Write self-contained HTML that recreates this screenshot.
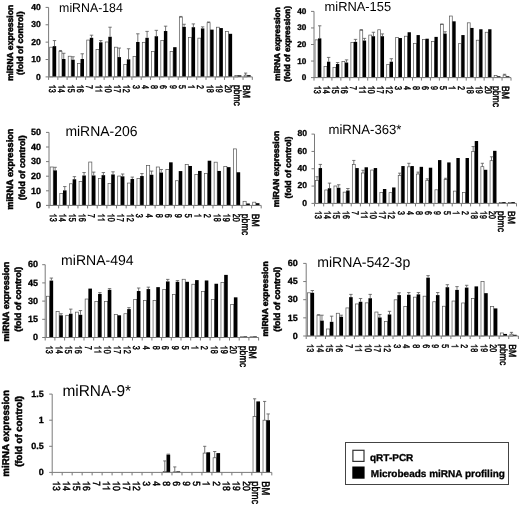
<!DOCTYPE html>
<html><head><meta charset="utf-8"><style>
html,body{margin:0;padding:0;background:#fff;}
svg{display:block;filter:grayscale(1) blur(0.35px);}
text{font-family:"Liberation Sans",sans-serif;fill:#000;text-rendering:geometricPrecision;}
.b{font-weight:bold;stroke:#000;stroke-width:0.3px;}
.yt{font-weight:bold;stroke:#000;stroke-width:0.5px;}
.xb{font-weight:bold;stroke:#000;stroke-width:0.1px;}
.xr{stroke:#000;stroke-width:0.4px;}
.one{fill:#000;stroke:#000;stroke-width:0.35px;}
</style></head><body>
<svg width="520" height="506" viewBox="0 0 520 506" shape-rendering="geometricPrecision">
<rect width="520" height="506" fill="#fff"/>
<rect x="49.71" y="47.19" width="2.96" height="29.71" fill="#fff" stroke="#555" stroke-width="0.7"/>
<rect x="52.77" y="46.15" width="3.43" height="30.75" fill="#000"/>
<path d="M54.49 46.15V40.59M52.79 40.59H56.19" stroke="#555" stroke-width="0.8" fill="none"/>
<rect x="58.97" y="51.36" width="2.96" height="25.54" fill="#fff" stroke="#555" stroke-width="0.7"/>
<rect x="62.03" y="59" width="3.43" height="17.9" fill="#000"/>
<path d="M60.45 51.36V50.49M58.85 50.49H62.05" stroke="#555" stroke-width="0.8" fill="none"/>
<path d="M63.75 59V53.27M62.05 53.27H65.45" stroke="#555" stroke-width="0.8" fill="none"/>
<rect x="68.23" y="56.22" width="2.96" height="20.68" fill="#fff" stroke="#555" stroke-width="0.7"/>
<rect x="71.29" y="59.7" width="3.43" height="17.2" fill="#000"/>
<path d="M73.01 59.7V56.75M71.31 56.75H74.71" stroke="#555" stroke-width="0.8" fill="none"/>
<rect x="77.49" y="63.52" width="2.96" height="13.38" fill="#fff" stroke="#555" stroke-width="0.7"/>
<rect x="80.55" y="59" width="3.43" height="17.9" fill="#000"/>
<path d="M82.26 59V53.79M80.56 53.79H83.96" stroke="#555" stroke-width="0.8" fill="none"/>
<rect x="86.75" y="40.07" width="2.96" height="36.84" fill="#fff" stroke="#555" stroke-width="0.7"/>
<rect x="89.81" y="37.81" width="3.43" height="39.09" fill="#000"/>
<path d="M91.52 37.81V35.2M89.82 35.2H93.22" stroke="#555" stroke-width="0.8" fill="none"/>
<rect x="96.01" y="49.62" width="2.96" height="27.28" fill="#fff" stroke="#555" stroke-width="0.7"/>
<rect x="99.07" y="42.32" width="3.43" height="34.58" fill="#000"/>
<path d="M100.78 42.32V40.59M99.08 40.59H102.48" stroke="#555" stroke-width="0.8" fill="none"/>
<rect x="105.27" y="41.98" width="2.96" height="34.92" fill="#fff" stroke="#555" stroke-width="0.7"/>
<rect x="108.33" y="36.76" width="3.43" height="40.14" fill="#000"/>
<path d="M110.04 36.76V27.21M108.34 27.21H111.74" stroke="#555" stroke-width="0.8" fill="none"/>
<rect x="114.52" y="47.19" width="2.96" height="29.71" fill="#fff" stroke="#555" stroke-width="0.7"/>
<rect x="117.59" y="57.09" width="3.43" height="19.81" fill="#000"/>
<path d="M119.3 57.09V48.06M117.6 48.06H121" stroke="#555" stroke-width="0.8" fill="none"/>
<rect x="123.78" y="64.56" width="2.96" height="12.34" fill="#fff" stroke="#555" stroke-width="0.7"/>
<rect x="126.85" y="59.35" width="3.43" height="17.55" fill="#000"/>
<path d="M128.56 59.35V48.75M126.86 48.75H130.26" stroke="#555" stroke-width="0.8" fill="none"/>
<rect x="133.04" y="56.57" width="2.96" height="20.33" fill="#fff" stroke="#555" stroke-width="0.7"/>
<rect x="136.11" y="41.98" width="3.43" height="34.92" fill="#000"/>
<path d="M137.82 41.98V33.81M136.12 33.81H139.52" stroke="#555" stroke-width="0.8" fill="none"/>
<rect x="142.3" y="42.32" width="2.96" height="34.58" fill="#fff" stroke="#555" stroke-width="0.7"/>
<rect x="145.36" y="37.81" width="3.43" height="39.09" fill="#000"/>
<path d="M147.08 37.81V31.38M145.38 31.38H148.78" stroke="#555" stroke-width="0.8" fill="none"/>
<rect x="151.56" y="51.36" width="2.96" height="25.54" fill="#fff" stroke="#555" stroke-width="0.7"/>
<rect x="154.62" y="36.24" width="3.43" height="40.66" fill="#000"/>
<path d="M156.34 36.24V30.34M154.64 30.34H158.04" stroke="#555" stroke-width="0.8" fill="none"/>
<rect x="160.82" y="40.59" width="2.96" height="36.31" fill="#fff" stroke="#555" stroke-width="0.7"/>
<rect x="163.88" y="31.03" width="3.43" height="45.87" fill="#000"/>
<path d="M165.6 31.03V26.17M163.9 26.17H167.3" stroke="#555" stroke-width="0.8" fill="none"/>
<rect x="170.08" y="51.53" width="2.96" height="25.37" fill="#fff" stroke="#555" stroke-width="0.7"/>
<rect x="173.14" y="47.19" width="3.43" height="29.71" fill="#000"/>
<rect x="179.34" y="17.13" width="2.96" height="59.77" fill="#fff" stroke="#555" stroke-width="0.7"/>
<rect x="182.4" y="26.86" width="3.43" height="50.04" fill="#000"/>
<path d="M180.82 17.13V16.44M179.22 16.44H182.42" stroke="#555" stroke-width="0.8" fill="none"/>
<path d="M184.11 26.86V24.25M182.41 24.25H185.81" stroke="#555" stroke-width="0.8" fill="none"/>
<rect x="188.6" y="37.46" width="2.96" height="39.44" fill="#fff" stroke="#555" stroke-width="0.7"/>
<rect x="191.66" y="27.21" width="3.43" height="49.69" fill="#000"/>
<path d="M193.37 27.21V23.91M191.67 23.91H195.07" stroke="#555" stroke-width="0.8" fill="none"/>
<rect x="197.86" y="38.15" width="2.96" height="38.75" fill="#fff" stroke="#555" stroke-width="0.7"/>
<rect x="200.92" y="28.42" width="3.43" height="48.48" fill="#000"/>
<path d="M202.63 28.42V26.86M200.93 26.86H204.33" stroke="#555" stroke-width="0.8" fill="none"/>
<rect x="207.12" y="22.69" width="2.96" height="54.21" fill="#fff" stroke="#555" stroke-width="0.7"/>
<rect x="210.18" y="29.64" width="3.43" height="47.26" fill="#000"/>
<path d="M208.6 22.69V22M207 22H210.2" stroke="#555" stroke-width="0.8" fill="none"/>
<rect x="216.37" y="27.21" width="2.96" height="49.69" fill="#fff" stroke="#555" stroke-width="0.7"/>
<rect x="219.44" y="28.08" width="3.43" height="48.82" fill="#000"/>
<rect x="225.63" y="31.55" width="2.96" height="45.35" fill="#fff" stroke="#555" stroke-width="0.7"/>
<rect x="228.7" y="33.81" width="3.43" height="43.09" fill="#000"/>
<rect x="234.89" y="75.51" width="2.96" height="1.39" fill="#fff" stroke="#555" stroke-width="0.7"/>
<rect x="237.96" y="75.34" width="3.43" height="1.56" fill="#000"/>
<rect x="244.15" y="75.16" width="2.96" height="1.74" fill="#fff" stroke="#555" stroke-width="0.7"/>
<rect x="247.21" y="75.16" width="3.43" height="1.74" fill="#000"/>
<path d="M245.63 75.16V73.08M244.03 73.08H247.23" stroke="#555" stroke-width="0.8" fill="none"/>
<path d="M48.6 7.4V76.9H252.3" stroke="#7a7a7a" stroke-width="1" fill="none"/>
<path d="M45.6 76.9H48.6" stroke="#7a7a7a" stroke-width="1"/>
<text x="40.8" y="79.5" text-anchor="end" class="b" font-size="8.6">0</text>
<path d="M45.6 59.53H48.6" stroke="#7a7a7a" stroke-width="1"/>
<text x="40.8" y="62.12" text-anchor="end" class="b" font-size="8.6">10</text>
<path d="M45.6 42.15H48.6" stroke="#7a7a7a" stroke-width="1"/>
<text x="40.8" y="44.75" text-anchor="end" class="b" font-size="8.6">20</text>
<path d="M45.6 24.78H48.6" stroke="#7a7a7a" stroke-width="1"/>
<text x="40.8" y="27.37" text-anchor="end" class="b" font-size="8.6">30</text>
<path d="M45.6 7.4H48.6" stroke="#7a7a7a" stroke-width="1"/>
<text x="40.8" y="10" text-anchor="end" class="b" font-size="8.6">40</text>
<path d="M48.6 76.9V79.9" stroke="#7a7a7a" stroke-width="1"/>
<path d="M57.86 76.9V79.9" stroke="#7a7a7a" stroke-width="1"/>
<path d="M67.12 76.9V79.9" stroke="#7a7a7a" stroke-width="1"/>
<path d="M76.38 76.9V79.9" stroke="#7a7a7a" stroke-width="1"/>
<path d="M85.64 76.9V79.9" stroke="#7a7a7a" stroke-width="1"/>
<path d="M94.9 76.9V79.9" stroke="#7a7a7a" stroke-width="1"/>
<path d="M104.15 76.9V79.9" stroke="#7a7a7a" stroke-width="1"/>
<path d="M113.41 76.9V79.9" stroke="#7a7a7a" stroke-width="1"/>
<path d="M122.67 76.9V79.9" stroke="#7a7a7a" stroke-width="1"/>
<path d="M131.93 76.9V79.9" stroke="#7a7a7a" stroke-width="1"/>
<path d="M141.19 76.9V79.9" stroke="#7a7a7a" stroke-width="1"/>
<path d="M150.45 76.9V79.9" stroke="#7a7a7a" stroke-width="1"/>
<path d="M159.71 76.9V79.9" stroke="#7a7a7a" stroke-width="1"/>
<path d="M168.97 76.9V79.9" stroke="#7a7a7a" stroke-width="1"/>
<path d="M178.23 76.9V79.9" stroke="#7a7a7a" stroke-width="1"/>
<path d="M187.49 76.9V79.9" stroke="#7a7a7a" stroke-width="1"/>
<path d="M196.75 76.9V79.9" stroke="#7a7a7a" stroke-width="1"/>
<path d="M206 76.9V79.9" stroke="#7a7a7a" stroke-width="1"/>
<path d="M215.26 76.9V79.9" stroke="#7a7a7a" stroke-width="1"/>
<path d="M224.52 76.9V79.9" stroke="#7a7a7a" stroke-width="1"/>
<path d="M233.78 76.9V79.9" stroke="#7a7a7a" stroke-width="1"/>
<path d="M243.04 76.9V79.9" stroke="#7a7a7a" stroke-width="1"/>
<path d="M252.3 76.9V79.9" stroke="#7a7a7a" stroke-width="1"/>
<g transform="translate(49.17 84.9) scale(1.2 0.88) rotate(90)"><path d="M2.89 0 2.89 -5.73 2.4 -5.73 2.1 -5.12 1.36 -4.6 0.5 -4.28 0.5 -3.6 1.2 -3.86 1.84 -4.24 2.19 -4.6 2.19 0Z" class="one"/><text x="4.45" y="0" font-size="8" class="xr">3</text></g>
<g transform="translate(58.43 84.9) scale(1.2 0.88) rotate(90)"><path d="M2.89 0 2.89 -5.73 2.4 -5.73 2.1 -5.12 1.36 -4.6 0.5 -4.28 0.5 -3.6 1.2 -3.86 1.84 -4.24 2.19 -4.6 2.19 0Z" class="one"/><text x="4.45" y="0" font-size="8" class="xr">4</text></g>
<g transform="translate(67.69 84.9) scale(1.2 0.88) rotate(90)"><path d="M2.89 0 2.89 -5.73 2.4 -5.73 2.1 -5.12 1.36 -4.6 0.5 -4.28 0.5 -3.6 1.2 -3.86 1.84 -4.24 2.19 -4.6 2.19 0Z" class="one"/><text x="4.45" y="0" font-size="8" class="xr">5</text></g>
<g transform="translate(76.95 84.9) scale(1.2 0.88) rotate(90)"><path d="M2.89 0 2.89 -5.73 2.4 -5.73 2.1 -5.12 1.36 -4.6 0.5 -4.28 0.5 -3.6 1.2 -3.86 1.84 -4.24 2.19 -4.6 2.19 0Z" class="one"/><text x="4.45" y="0" font-size="8" class="xr">6</text></g>
<g transform="translate(86.21 84.9) scale(1.2 0.88) rotate(90)"><text x="0" y="0" font-size="8" class="xr">7</text></g>
<g transform="translate(95.47 84.9) scale(1.2 0.88) rotate(90)"><path d="M2.89 0 2.89 -5.73 2.4 -5.73 2.1 -5.12 1.36 -4.6 0.5 -4.28 0.5 -3.6 1.2 -3.86 1.84 -4.24 2.19 -4.6 2.19 0Z" class="one"/><path d="M7.34 0 7.34 -5.73 6.85 -5.73 6.54 -5.12 5.81 -4.6 4.94 -4.28 4.94 -3.6 5.65 -3.86 6.29 -4.24 6.64 -4.6 6.64 0Z" class="one"/></g>
<g transform="translate(104.73 84.9) scale(1.2 0.88) rotate(90)"><path d="M2.89 0 2.89 -5.73 2.4 -5.73 2.1 -5.12 1.36 -4.6 0.5 -4.28 0.5 -3.6 1.2 -3.86 1.84 -4.24 2.19 -4.6 2.19 0Z" class="one"/><text x="4.45" y="0" font-size="8" class="xr">0</text></g>
<g transform="translate(113.99 84.9) scale(1.2 0.88) rotate(90)"><path d="M2.89 0 2.89 -5.73 2.4 -5.73 2.1 -5.12 1.36 -4.6 0.5 -4.28 0.5 -3.6 1.2 -3.86 1.84 -4.24 2.19 -4.6 2.19 0Z" class="one"/><text x="4.45" y="0" font-size="8" class="xr">7</text></g>
<g transform="translate(123.25 84.9) scale(1.2 0.88) rotate(90)"><path d="M2.89 0 2.89 -5.73 2.4 -5.73 2.1 -5.12 1.36 -4.6 0.5 -4.28 0.5 -3.6 1.2 -3.86 1.84 -4.24 2.19 -4.6 2.19 0Z" class="one"/><text x="4.45" y="0" font-size="8" class="xr">2</text></g>
<g transform="translate(132.51 84.9) scale(1.2 0.88) rotate(90)"><text x="0" y="0" font-size="8" class="xr">3</text></g>
<g transform="translate(141.76 84.9) scale(1.2 0.88) rotate(90)"><text x="0" y="0" font-size="8" class="xr">4</text></g>
<g transform="translate(151.02 84.9) scale(1.2 0.88) rotate(90)"><text x="0" y="0" font-size="8" class="xr">8</text></g>
<g transform="translate(160.28 84.9) scale(1.2 0.88) rotate(90)"><text x="0" y="0" font-size="8" class="xr">6</text></g>
<g transform="translate(169.54 84.9) scale(1.2 0.88) rotate(90)"><text x="0" y="0" font-size="8" class="xr">9</text></g>
<g transform="translate(178.8 84.9) scale(1.2 0.88) rotate(90)"><text x="0" y="0" font-size="8" class="xr">5</text></g>
<g transform="translate(188.06 84.9) scale(1.2 0.88) rotate(90)"><path d="M2.89 0 2.89 -5.73 2.4 -5.73 2.1 -5.12 1.36 -4.6 0.5 -4.28 0.5 -3.6 1.2 -3.86 1.84 -4.24 2.19 -4.6 2.19 0Z" class="one"/></g>
<g transform="translate(197.32 84.9) scale(1.2 0.88) rotate(90)"><text x="0" y="0" font-size="8" class="xr">2</text></g>
<g transform="translate(206.58 84.9) scale(1.2 0.88) rotate(90)"><path d="M2.89 0 2.89 -5.73 2.4 -5.73 2.1 -5.12 1.36 -4.6 0.5 -4.28 0.5 -3.6 1.2 -3.86 1.84 -4.24 2.19 -4.6 2.19 0Z" class="one"/><text x="4.45" y="0" font-size="8" class="xr">8</text></g>
<g transform="translate(215.84 84.9) scale(1.2 0.88) rotate(90)"><path d="M2.89 0 2.89 -5.73 2.4 -5.73 2.1 -5.12 1.36 -4.6 0.5 -4.28 0.5 -3.6 1.2 -3.86 1.84 -4.24 2.19 -4.6 2.19 0Z" class="one"/><text x="4.45" y="0" font-size="8" class="xr">9</text></g>
<g transform="translate(225.1 84.9) scale(1.2 0.88) rotate(90)"><text x="0" y="0" font-size="8" class="xr">2</text><text x="4.45" y="0" font-size="8" class="xr">0</text></g>
<text transform="translate(234.1 84.9) scale(1.2 1) rotate(90)" font-size="8.6" class="xr">pbmc</text>
<text transform="translate(243.36 84.9) scale(1.2 1) rotate(90)" font-size="8.6" class="xr">BM</text>
<text transform="translate(59.11 11.7) scale(0.98 1)" font-size="12.58">miRNA-184</text>
<text transform="translate(13 42.8) rotate(-90)" text-anchor="middle" class="yt" font-size="8.6">miRNA expression</text>
<text transform="translate(22.9 43.2) rotate(-90)" text-anchor="middle" class="yt" font-size="8.6">(fold of control)</text>
<rect x="315.07" y="39.87" width="2.87" height="37.73" fill="#fff" stroke="#555" stroke-width="0.7"/>
<rect x="318.04" y="38.38" width="3.31" height="39.22" fill="#000"/>
<path d="M319.7 38.38V25.8M318 25.8H321.4" stroke="#555" stroke-width="0.8" fill="none"/>
<rect x="324.03" y="66.51" width="2.87" height="11.09" fill="#fff" stroke="#555" stroke-width="0.7"/>
<rect x="326.99" y="61.71" width="3.31" height="15.89" fill="#000"/>
<path d="M328.65 61.71V57.41M326.95 57.41H330.35" stroke="#555" stroke-width="0.8" fill="none"/>
<rect x="332.98" y="67.34" width="2.87" height="10.26" fill="#fff" stroke="#555" stroke-width="0.7"/>
<rect x="335.95" y="64.03" width="3.31" height="13.57" fill="#000"/>
<path d="M337.61 64.03V62.54M335.91 62.54H339.31" stroke="#555" stroke-width="0.8" fill="none"/>
<rect x="341.94" y="61.38" width="2.87" height="16.22" fill="#fff" stroke="#555" stroke-width="0.7"/>
<rect x="344.9" y="62.54" width="3.31" height="15.06" fill="#000"/>
<path d="M346.56 62.54V59.89M344.86 59.89H348.26" stroke="#555" stroke-width="0.8" fill="none"/>
<rect x="350.89" y="42.35" width="2.87" height="35.25" fill="#fff" stroke="#555" stroke-width="0.7"/>
<rect x="353.86" y="41.85" width="3.31" height="35.75" fill="#000"/>
<path d="M355.51 41.85V39.37M353.81 39.37H357.21" stroke="#555" stroke-width="0.8" fill="none"/>
<rect x="359.85" y="30.27" width="2.87" height="47.33" fill="#fff" stroke="#555" stroke-width="0.7"/>
<rect x="362.81" y="40.53" width="3.31" height="37.07" fill="#000"/>
<path d="M361.28 30.27V29.6M359.68 29.6H362.88" stroke="#555" stroke-width="0.8" fill="none"/>
<path d="M364.47 40.53V38.38M362.77 38.38H366.17" stroke="#555" stroke-width="0.8" fill="none"/>
<rect x="368.8" y="35.07" width="2.87" height="42.53" fill="#fff" stroke="#555" stroke-width="0.7"/>
<rect x="371.77" y="36.23" width="3.31" height="41.37" fill="#000"/>
<path d="M373.42 36.23V32.25M371.72 32.25H375.12" stroke="#555" stroke-width="0.8" fill="none"/>
<rect x="377.76" y="29.77" width="2.87" height="47.83" fill="#fff" stroke="#555" stroke-width="0.7"/>
<rect x="380.72" y="36.23" width="3.31" height="41.37" fill="#000"/>
<path d="M382.38 36.23V33.91M380.68 33.91H384.08" stroke="#555" stroke-width="0.8" fill="none"/>
<rect x="386.71" y="64.36" width="2.87" height="13.24" fill="#fff" stroke="#555" stroke-width="0.7"/>
<rect x="389.68" y="61.71" width="3.31" height="15.89" fill="#000"/>
<path d="M391.33 61.71V58.73M389.63 58.73H393.03" stroke="#555" stroke-width="0.8" fill="none"/>
<rect x="395.67" y="37.38" width="2.87" height="40.22" fill="#fff" stroke="#555" stroke-width="0.7"/>
<rect x="398.63" y="38.05" width="3.31" height="39.55" fill="#000"/>
<rect x="404.62" y="36.23" width="2.87" height="41.37" fill="#fff" stroke="#555" stroke-width="0.7"/>
<rect x="407.59" y="32.25" width="3.31" height="45.35" fill="#000"/>
<rect x="413.57" y="43.34" width="2.87" height="34.26" fill="#fff" stroke="#555" stroke-width="0.7"/>
<rect x="416.54" y="35.07" width="3.31" height="42.53" fill="#000"/>
<rect x="422.53" y="39.37" width="2.87" height="38.23" fill="#fff" stroke="#555" stroke-width="0.7"/>
<rect x="425.49" y="38.71" width="3.31" height="38.89" fill="#000"/>
<rect x="431.48" y="41.36" width="2.87" height="36.24" fill="#fff" stroke="#555" stroke-width="0.7"/>
<rect x="434.45" y="36.89" width="3.31" height="40.71" fill="#000"/>
<rect x="440.44" y="24.64" width="2.87" height="52.96" fill="#fff" stroke="#555" stroke-width="0.7"/>
<rect x="443.4" y="33.58" width="3.31" height="44.02" fill="#000"/>
<path d="M441.87 24.64V23.98M440.27 23.98H443.47" stroke="#555" stroke-width="0.8" fill="none"/>
<path d="M445.06 33.58V31.76M443.36 31.76H446.76" stroke="#555" stroke-width="0.8" fill="none"/>
<rect x="449.39" y="16.03" width="2.87" height="61.57" fill="#fff" stroke="#555" stroke-width="0.7"/>
<rect x="452.36" y="21.33" width="3.31" height="56.27" fill="#000"/>
<rect x="458.35" y="43.67" width="2.87" height="33.93" fill="#fff" stroke="#555" stroke-width="0.7"/>
<rect x="461.31" y="35.07" width="3.31" height="42.53" fill="#000"/>
<rect x="467.3" y="22.82" width="2.87" height="54.78" fill="#fff" stroke="#555" stroke-width="0.7"/>
<rect x="470.27" y="27.95" width="3.31" height="49.65" fill="#000"/>
<rect x="476.26" y="40.2" width="2.87" height="37.4" fill="#fff" stroke="#555" stroke-width="0.7"/>
<rect x="479.22" y="29.27" width="3.31" height="48.33" fill="#000"/>
<rect x="485.21" y="32.25" width="2.87" height="45.35" fill="#fff" stroke="#555" stroke-width="0.7"/>
<rect x="488.18" y="29.27" width="3.31" height="48.33" fill="#000"/>
<rect x="494.17" y="75.45" width="2.87" height="2.15" fill="#fff" stroke="#555" stroke-width="0.7"/>
<rect x="497.13" y="76.28" width="3.31" height="1.32" fill="#000"/>
<rect x="503.12" y="75.12" width="2.87" height="2.48" fill="#fff" stroke="#555" stroke-width="0.7"/>
<rect x="506.09" y="76.28" width="3.31" height="1.32" fill="#000"/>
<path d="M504.55 75.12V74.29M502.95 74.29H506.15" stroke="#555" stroke-width="0.8" fill="none"/>
<path d="M314 11.4V77.6H511" stroke="#7a7a7a" stroke-width="1" fill="none"/>
<path d="M311 77.6H314" stroke="#7a7a7a" stroke-width="1"/>
<text x="306.4" y="80.05" text-anchor="end" class="b" font-size="8.2">0</text>
<path d="M311 61.05H314" stroke="#7a7a7a" stroke-width="1"/>
<text x="306.4" y="63.5" text-anchor="end" class="b" font-size="8.2">10</text>
<path d="M311 44.5H314" stroke="#7a7a7a" stroke-width="1"/>
<text x="306.4" y="46.95" text-anchor="end" class="b" font-size="8.2">20</text>
<path d="M311 27.95H314" stroke="#7a7a7a" stroke-width="1"/>
<text x="306.4" y="30.4" text-anchor="end" class="b" font-size="8.2">30</text>
<path d="M311 11.4H314" stroke="#7a7a7a" stroke-width="1"/>
<text x="306.4" y="13.85" text-anchor="end" class="b" font-size="8.2">40</text>
<path d="M314 77.6V80.6" stroke="#7a7a7a" stroke-width="1"/>
<path d="M322.95 77.6V80.6" stroke="#7a7a7a" stroke-width="1"/>
<path d="M331.91 77.6V80.6" stroke="#7a7a7a" stroke-width="1"/>
<path d="M340.86 77.6V80.6" stroke="#7a7a7a" stroke-width="1"/>
<path d="M349.82 77.6V80.6" stroke="#7a7a7a" stroke-width="1"/>
<path d="M358.77 77.6V80.6" stroke="#7a7a7a" stroke-width="1"/>
<path d="M367.73 77.6V80.6" stroke="#7a7a7a" stroke-width="1"/>
<path d="M376.68 77.6V80.6" stroke="#7a7a7a" stroke-width="1"/>
<path d="M385.64 77.6V80.6" stroke="#7a7a7a" stroke-width="1"/>
<path d="M394.59 77.6V80.6" stroke="#7a7a7a" stroke-width="1"/>
<path d="M403.55 77.6V80.6" stroke="#7a7a7a" stroke-width="1"/>
<path d="M412.5 77.6V80.6" stroke="#7a7a7a" stroke-width="1"/>
<path d="M421.45 77.6V80.6" stroke="#7a7a7a" stroke-width="1"/>
<path d="M430.41 77.6V80.6" stroke="#7a7a7a" stroke-width="1"/>
<path d="M439.36 77.6V80.6" stroke="#7a7a7a" stroke-width="1"/>
<path d="M448.32 77.6V80.6" stroke="#7a7a7a" stroke-width="1"/>
<path d="M457.27 77.6V80.6" stroke="#7a7a7a" stroke-width="1"/>
<path d="M466.23 77.6V80.6" stroke="#7a7a7a" stroke-width="1"/>
<path d="M475.18 77.6V80.6" stroke="#7a7a7a" stroke-width="1"/>
<path d="M484.14 77.6V80.6" stroke="#7a7a7a" stroke-width="1"/>
<path d="M493.09 77.6V80.6" stroke="#7a7a7a" stroke-width="1"/>
<path d="M502.05 77.6V80.6" stroke="#7a7a7a" stroke-width="1"/>
<path d="M511 77.6V80.6" stroke="#7a7a7a" stroke-width="1"/>
<g transform="translate(314.38 85.9) scale(1.2 0.88) rotate(90)"><path d="M2.92 0 2.92 -5.8 2.43 -5.8 2.12 -5.18 1.38 -4.66 0.5 -4.33 0.5 -3.65 1.21 -3.9 1.86 -4.29 2.22 -4.66 2.22 0Z" class="one"/><text x="4.5" y="0" font-size="8.1" class="xr">3</text></g>
<g transform="translate(323.33 85.9) scale(1.2 0.88) rotate(90)"><path d="M2.92 0 2.92 -5.8 2.43 -5.8 2.12 -5.18 1.38 -4.66 0.5 -4.33 0.5 -3.65 1.21 -3.9 1.86 -4.29 2.22 -4.66 2.22 0Z" class="one"/><text x="4.5" y="0" font-size="8.1" class="xr">4</text></g>
<g transform="translate(332.29 85.9) scale(1.2 0.88) rotate(90)"><path d="M2.92 0 2.92 -5.8 2.43 -5.8 2.12 -5.18 1.38 -4.66 0.5 -4.33 0.5 -3.65 1.21 -3.9 1.86 -4.29 2.22 -4.66 2.22 0Z" class="one"/><text x="4.5" y="0" font-size="8.1" class="xr">5</text></g>
<g transform="translate(341.24 85.9) scale(1.2 0.88) rotate(90)"><path d="M2.92 0 2.92 -5.8 2.43 -5.8 2.12 -5.18 1.38 -4.66 0.5 -4.33 0.5 -3.65 1.21 -3.9 1.86 -4.29 2.22 -4.66 2.22 0Z" class="one"/><text x="4.5" y="0" font-size="8.1" class="xr">6</text></g>
<g transform="translate(350.2 85.9) scale(1.2 0.88) rotate(90)"><text x="0" y="0" font-size="8.1" class="xr">7</text></g>
<g transform="translate(359.15 85.9) scale(1.2 0.88) rotate(90)"><path d="M2.92 0 2.92 -5.8 2.43 -5.8 2.12 -5.18 1.38 -4.66 0.5 -4.33 0.5 -3.65 1.21 -3.9 1.86 -4.29 2.22 -4.66 2.22 0Z" class="one"/><path d="M7.43 0 7.43 -5.8 6.93 -5.8 6.63 -5.18 5.88 -4.66 5.01 -4.33 5.01 -3.65 5.72 -3.9 6.37 -4.29 6.72 -4.66 6.72 0Z" class="one"/></g>
<g transform="translate(368.11 85.9) scale(1.2 0.88) rotate(90)"><path d="M2.92 0 2.92 -5.8 2.43 -5.8 2.12 -5.18 1.38 -4.66 0.5 -4.33 0.5 -3.65 1.21 -3.9 1.86 -4.29 2.22 -4.66 2.22 0Z" class="one"/><text x="4.5" y="0" font-size="8.1" class="xr">0</text></g>
<g transform="translate(377.06 85.9) scale(1.2 0.88) rotate(90)"><path d="M2.92 0 2.92 -5.8 2.43 -5.8 2.12 -5.18 1.38 -4.66 0.5 -4.33 0.5 -3.65 1.21 -3.9 1.86 -4.29 2.22 -4.66 2.22 0Z" class="one"/><text x="4.5" y="0" font-size="8.1" class="xr">7</text></g>
<g transform="translate(386.01 85.9) scale(1.2 0.88) rotate(90)"><path d="M2.92 0 2.92 -5.8 2.43 -5.8 2.12 -5.18 1.38 -4.66 0.5 -4.33 0.5 -3.65 1.21 -3.9 1.86 -4.29 2.22 -4.66 2.22 0Z" class="one"/><text x="4.5" y="0" font-size="8.1" class="xr">2</text></g>
<g transform="translate(394.97 85.9) scale(1.2 0.88) rotate(90)"><text x="0" y="0" font-size="8.1" class="xr">3</text></g>
<g transform="translate(403.92 85.9) scale(1.2 0.88) rotate(90)"><text x="0" y="0" font-size="8.1" class="xr">4</text></g>
<g transform="translate(412.88 85.9) scale(1.2 0.88) rotate(90)"><text x="0" y="0" font-size="8.1" class="xr">8</text></g>
<g transform="translate(421.83 85.9) scale(1.2 0.88) rotate(90)"><text x="0" y="0" font-size="8.1" class="xr">6</text></g>
<g transform="translate(430.79 85.9) scale(1.2 0.88) rotate(90)"><text x="0" y="0" font-size="8.1" class="xr">9</text></g>
<g transform="translate(439.74 85.9) scale(1.2 0.88) rotate(90)"><text x="0" y="0" font-size="8.1" class="xr">5</text></g>
<g transform="translate(448.7 85.9) scale(1.2 0.88) rotate(90)"><path d="M2.92 0 2.92 -5.8 2.43 -5.8 2.12 -5.18 1.38 -4.66 0.5 -4.33 0.5 -3.65 1.21 -3.9 1.86 -4.29 2.22 -4.66 2.22 0Z" class="one"/></g>
<g transform="translate(457.65 85.9) scale(1.2 0.88) rotate(90)"><text x="0" y="0" font-size="8.1" class="xr">2</text></g>
<g transform="translate(466.61 85.9) scale(1.2 0.88) rotate(90)"><path d="M2.92 0 2.92 -5.8 2.43 -5.8 2.12 -5.18 1.38 -4.66 0.5 -4.33 0.5 -3.65 1.21 -3.9 1.86 -4.29 2.22 -4.66 2.22 0Z" class="one"/><text x="4.5" y="0" font-size="8.1" class="xr">8</text></g>
<g transform="translate(475.56 85.9) scale(1.2 0.88) rotate(90)"><path d="M2.92 0 2.92 -5.8 2.43 -5.8 2.12 -5.18 1.38 -4.66 0.5 -4.33 0.5 -3.65 1.21 -3.9 1.86 -4.29 2.22 -4.66 2.22 0Z" class="one"/><text x="4.5" y="0" font-size="8.1" class="xr">9</text></g>
<g transform="translate(484.51 85.9) scale(1.2 0.88) rotate(90)"><text x="0" y="0" font-size="8.1" class="xr">2</text><text x="4.5" y="0" font-size="8.1" class="xr">0</text></g>
<text transform="translate(493.21 85.9) scale(1.2 1) rotate(90)" font-size="8.7" class="xr">pbmc</text>
<text transform="translate(502.16 85.9) scale(1.2 1) rotate(90)" font-size="8.7" class="xr">BM</text>
<text transform="translate(324.61 11.1) scale(0.98 1)" font-size="13.14">miRNA-155</text>
<text transform="translate(280 44) rotate(-90)" text-anchor="middle" class="yt" font-size="8.3">miRNA expression</text>
<text transform="translate(289.6 44) rotate(-90)" text-anchor="middle" class="yt" font-size="8.2">(fold of expression)</text>
<rect x="50.16" y="167" width="3.09" height="38.4" fill="#fff" stroke="#555" stroke-width="0.7"/>
<rect x="53.34" y="170.36" width="3.57" height="35.04" fill="#000"/>
<path d="M55.13 170.36V167.29M53.43 167.29H56.83" stroke="#555" stroke-width="0.8" fill="none"/>
<rect x="59.8" y="193.57" width="3.09" height="11.83" fill="#fff" stroke="#555" stroke-width="0.7"/>
<rect x="62.99" y="190.36" width="3.57" height="15.04" fill="#000"/>
<path d="M64.77 190.36V186.57M63.07 186.57H66.47" stroke="#555" stroke-width="0.8" fill="none"/>
<rect x="69.45" y="183.79" width="3.09" height="21.61" fill="#fff" stroke="#555" stroke-width="0.7"/>
<rect x="72.63" y="179.27" width="3.57" height="26.13" fill="#000"/>
<path d="M74.42 179.27V176.64M72.72 176.64H76.12" stroke="#555" stroke-width="0.8" fill="none"/>
<rect x="79.09" y="181.46" width="3.09" height="23.94" fill="#fff" stroke="#555" stroke-width="0.7"/>
<rect x="82.28" y="175.47" width="3.57" height="29.93" fill="#000"/>
<path d="M84.06 175.47V172.55M82.36 172.55H85.76" stroke="#555" stroke-width="0.8" fill="none"/>
<rect x="88.74" y="162.04" width="3.09" height="43.36" fill="#fff" stroke="#555" stroke-width="0.7"/>
<rect x="91.93" y="175.47" width="3.57" height="29.93" fill="#000"/>
<path d="M93.71 175.47V172.11M92.01 172.11H95.41" stroke="#555" stroke-width="0.8" fill="none"/>
<rect x="98.38" y="178.54" width="3.09" height="26.86" fill="#fff" stroke="#555" stroke-width="0.7"/>
<rect x="101.57" y="175.18" width="3.57" height="30.22" fill="#000"/>
<path d="M103.36 175.18V172.55M101.66 172.55H105.06" stroke="#555" stroke-width="0.8" fill="none"/>
<rect x="108.03" y="183.5" width="3.09" height="21.9" fill="#fff" stroke="#555" stroke-width="0.7"/>
<rect x="111.22" y="174.45" width="3.57" height="30.95" fill="#000"/>
<path d="M113 174.45V171.82M111.3 171.82H114.7" stroke="#555" stroke-width="0.8" fill="none"/>
<rect x="117.68" y="176.05" width="3.09" height="29.35" fill="#fff" stroke="#555" stroke-width="0.7"/>
<rect x="120.86" y="176.35" width="3.57" height="29.05" fill="#000"/>
<path d="M122.65 176.35V174.01M120.95 174.01H124.35" stroke="#555" stroke-width="0.8" fill="none"/>
<rect x="127.32" y="183.06" width="3.09" height="22.34" fill="#fff" stroke="#555" stroke-width="0.7"/>
<rect x="130.51" y="178.97" width="3.57" height="26.43" fill="#000"/>
<path d="M132.29 178.97V177.08M130.59 177.08H133.99" stroke="#555" stroke-width="0.8" fill="none"/>
<rect x="136.97" y="178.54" width="3.09" height="26.86" fill="#fff" stroke="#555" stroke-width="0.7"/>
<rect x="140.15" y="176.05" width="3.57" height="29.35" fill="#000"/>
<path d="M141.94 176.05V173.57M140.24 173.57H143.64" stroke="#555" stroke-width="0.8" fill="none"/>
<rect x="146.61" y="165.4" width="3.09" height="40" fill="#fff" stroke="#555" stroke-width="0.7"/>
<rect x="149.8" y="174.74" width="3.57" height="30.66" fill="#000"/>
<path d="M151.58 174.74V171.09M149.88 171.09H153.28" stroke="#555" stroke-width="0.8" fill="none"/>
<rect x="156.26" y="167" width="3.09" height="38.4" fill="#fff" stroke="#555" stroke-width="0.7"/>
<rect x="159.44" y="172.55" width="3.57" height="32.85" fill="#000"/>
<path d="M161.23 172.55V169.48M159.53 169.48H162.93" stroke="#555" stroke-width="0.8" fill="none"/>
<rect x="165.9" y="169.63" width="3.09" height="35.77" fill="#fff" stroke="#555" stroke-width="0.7"/>
<rect x="169.09" y="162.33" width="3.57" height="43.07" fill="#000"/>
<rect x="175.55" y="180.73" width="3.09" height="24.67" fill="#fff" stroke="#555" stroke-width="0.7"/>
<rect x="178.73" y="171.09" width="3.57" height="34.31" fill="#000"/>
<rect x="185.19" y="164.52" width="3.09" height="40.88" fill="#fff" stroke="#555" stroke-width="0.7"/>
<rect x="188.38" y="165.98" width="3.57" height="39.42" fill="#000"/>
<rect x="194.84" y="174.59" width="3.09" height="30.81" fill="#fff" stroke="#555" stroke-width="0.7"/>
<rect x="198.03" y="170.94" width="3.57" height="34.46" fill="#000"/>
<rect x="204.48" y="173.57" width="3.09" height="31.83" fill="#fff" stroke="#555" stroke-width="0.7"/>
<rect x="207.67" y="160.72" width="3.57" height="44.68" fill="#000"/>
<rect x="214.13" y="162.18" width="3.09" height="43.22" fill="#fff" stroke="#555" stroke-width="0.7"/>
<rect x="217.32" y="170.94" width="3.57" height="34.46" fill="#000"/>
<rect x="223.78" y="166.42" width="3.09" height="38.98" fill="#fff" stroke="#555" stroke-width="0.7"/>
<rect x="226.96" y="167.15" width="3.57" height="38.25" fill="#000"/>
<rect x="233.42" y="148.9" width="3.09" height="56.5" fill="#fff" stroke="#555" stroke-width="0.7"/>
<rect x="236.61" y="172.26" width="3.57" height="33.14" fill="#000"/>
<rect x="243.07" y="201.31" width="3.09" height="4.09" fill="#fff" stroke="#555" stroke-width="0.7"/>
<rect x="246.25" y="203.5" width="3.57" height="1.9" fill="#000"/>
<rect x="252.71" y="202.19" width="3.09" height="3.21" fill="#fff" stroke="#555" stroke-width="0.7"/>
<rect x="255.9" y="203.21" width="3.57" height="2.19" fill="#000"/>
<path d="M49 132.4V205.4H261.2" stroke="#7a7a7a" stroke-width="1" fill="none"/>
<path d="M46 205.4H49" stroke="#7a7a7a" stroke-width="1"/>
<text x="41" y="208.14" text-anchor="end" class="b" font-size="9">0</text>
<path d="M46 190.8H49" stroke="#7a7a7a" stroke-width="1"/>
<text x="41" y="193.54" text-anchor="end" class="b" font-size="9">10</text>
<path d="M46 176.2H49" stroke="#7a7a7a" stroke-width="1"/>
<text x="41" y="178.94" text-anchor="end" class="b" font-size="9">20</text>
<path d="M46 161.6H49" stroke="#7a7a7a" stroke-width="1"/>
<text x="41" y="164.34" text-anchor="end" class="b" font-size="9">30</text>
<path d="M46 147H49" stroke="#7a7a7a" stroke-width="1"/>
<text x="41" y="149.74" text-anchor="end" class="b" font-size="9">40</text>
<path d="M46 132.4H49" stroke="#7a7a7a" stroke-width="1"/>
<text x="41" y="135.14" text-anchor="end" class="b" font-size="9">50</text>
<path d="M49 205.4V208.4" stroke="#7a7a7a" stroke-width="1"/>
<path d="M58.65 205.4V208.4" stroke="#7a7a7a" stroke-width="1"/>
<path d="M68.29 205.4V208.4" stroke="#7a7a7a" stroke-width="1"/>
<path d="M77.94 205.4V208.4" stroke="#7a7a7a" stroke-width="1"/>
<path d="M87.58 205.4V208.4" stroke="#7a7a7a" stroke-width="1"/>
<path d="M97.23 205.4V208.4" stroke="#7a7a7a" stroke-width="1"/>
<path d="M106.87 205.4V208.4" stroke="#7a7a7a" stroke-width="1"/>
<path d="M116.52 205.4V208.4" stroke="#7a7a7a" stroke-width="1"/>
<path d="M126.16 205.4V208.4" stroke="#7a7a7a" stroke-width="1"/>
<path d="M135.81 205.4V208.4" stroke="#7a7a7a" stroke-width="1"/>
<path d="M145.45 205.4V208.4" stroke="#7a7a7a" stroke-width="1"/>
<path d="M155.1 205.4V208.4" stroke="#7a7a7a" stroke-width="1"/>
<path d="M164.75 205.4V208.4" stroke="#7a7a7a" stroke-width="1"/>
<path d="M174.39 205.4V208.4" stroke="#7a7a7a" stroke-width="1"/>
<path d="M184.04 205.4V208.4" stroke="#7a7a7a" stroke-width="1"/>
<path d="M193.68 205.4V208.4" stroke="#7a7a7a" stroke-width="1"/>
<path d="M203.33 205.4V208.4" stroke="#7a7a7a" stroke-width="1"/>
<path d="M212.97 205.4V208.4" stroke="#7a7a7a" stroke-width="1"/>
<path d="M222.62 205.4V208.4" stroke="#7a7a7a" stroke-width="1"/>
<path d="M232.26 205.4V208.4" stroke="#7a7a7a" stroke-width="1"/>
<path d="M241.91 205.4V208.4" stroke="#7a7a7a" stroke-width="1"/>
<path d="M251.55 205.4V208.4" stroke="#7a7a7a" stroke-width="1"/>
<path d="M261.2 205.4V208.4" stroke="#7a7a7a" stroke-width="1"/>
<g transform="translate(49.68 213.7) scale(1.2 0.88) rotate(90)"><path d="M2.96 0 2.96 -5.87 2.46 -5.87 2.15 -5.25 1.39 -4.71 0.51 -4.39 0.51 -3.69 1.23 -3.95 1.89 -4.35 2.25 -4.71 2.25 0Z" class="one"/><text x="4.56" y="0" font-size="8.2" class="xr">3</text></g>
<g transform="translate(59.33 213.7) scale(1.2 0.88) rotate(90)"><path d="M2.96 0 2.96 -5.87 2.46 -5.87 2.15 -5.25 1.39 -4.71 0.51 -4.39 0.51 -3.69 1.23 -3.95 1.89 -4.35 2.25 -4.71 2.25 0Z" class="one"/><text x="4.56" y="0" font-size="8.2" class="xr">4</text></g>
<g transform="translate(68.97 213.7) scale(1.2 0.88) rotate(90)"><path d="M2.96 0 2.96 -5.87 2.46 -5.87 2.15 -5.25 1.39 -4.71 0.51 -4.39 0.51 -3.69 1.23 -3.95 1.89 -4.35 2.25 -4.71 2.25 0Z" class="one"/><text x="4.56" y="0" font-size="8.2" class="xr">5</text></g>
<g transform="translate(78.62 213.7) scale(1.2 0.88) rotate(90)"><path d="M2.96 0 2.96 -5.87 2.46 -5.87 2.15 -5.25 1.39 -4.71 0.51 -4.39 0.51 -3.69 1.23 -3.95 1.89 -4.35 2.25 -4.71 2.25 0Z" class="one"/><text x="4.56" y="0" font-size="8.2" class="xr">6</text></g>
<g transform="translate(88.26 213.7) scale(1.2 0.88) rotate(90)"><text x="0" y="0" font-size="8.2" class="xr">7</text></g>
<g transform="translate(97.91 213.7) scale(1.2 0.88) rotate(90)"><path d="M2.96 0 2.96 -5.87 2.46 -5.87 2.15 -5.25 1.39 -4.71 0.51 -4.39 0.51 -3.69 1.23 -3.95 1.89 -4.35 2.25 -4.71 2.25 0Z" class="one"/><path d="M7.52 0 7.52 -5.87 7.02 -5.87 6.71 -5.25 5.95 -4.71 5.07 -4.39 5.07 -3.69 5.79 -3.95 6.45 -4.35 6.81 -4.71 6.81 0Z" class="one"/></g>
<g transform="translate(107.55 213.7) scale(1.2 0.88) rotate(90)"><path d="M2.96 0 2.96 -5.87 2.46 -5.87 2.15 -5.25 1.39 -4.71 0.51 -4.39 0.51 -3.69 1.23 -3.95 1.89 -4.35 2.25 -4.71 2.25 0Z" class="one"/><text x="4.56" y="0" font-size="8.2" class="xr">0</text></g>
<g transform="translate(117.2 213.7) scale(1.2 0.88) rotate(90)"><path d="M2.96 0 2.96 -5.87 2.46 -5.87 2.15 -5.25 1.39 -4.71 0.51 -4.39 0.51 -3.69 1.23 -3.95 1.89 -4.35 2.25 -4.71 2.25 0Z" class="one"/><text x="4.56" y="0" font-size="8.2" class="xr">7</text></g>
<g transform="translate(126.84 213.7) scale(1.2 0.88) rotate(90)"><path d="M2.96 0 2.96 -5.87 2.46 -5.87 2.15 -5.25 1.39 -4.71 0.51 -4.39 0.51 -3.69 1.23 -3.95 1.89 -4.35 2.25 -4.71 2.25 0Z" class="one"/><text x="4.56" y="0" font-size="8.2" class="xr">2</text></g>
<g transform="translate(136.49 213.7) scale(1.2 0.88) rotate(90)"><text x="0" y="0" font-size="8.2" class="xr">3</text></g>
<g transform="translate(146.13 213.7) scale(1.2 0.88) rotate(90)"><text x="0" y="0" font-size="8.2" class="xr">4</text></g>
<g transform="translate(155.78 213.7) scale(1.2 0.88) rotate(90)"><text x="0" y="0" font-size="8.2" class="xr">8</text></g>
<g transform="translate(165.43 213.7) scale(1.2 0.88) rotate(90)"><text x="0" y="0" font-size="8.2" class="xr">6</text></g>
<g transform="translate(175.07 213.7) scale(1.2 0.88) rotate(90)"><text x="0" y="0" font-size="8.2" class="xr">9</text></g>
<g transform="translate(184.72 213.7) scale(1.2 0.88) rotate(90)"><text x="0" y="0" font-size="8.2" class="xr">5</text></g>
<g transform="translate(194.36 213.7) scale(1.2 0.88) rotate(90)"><path d="M2.96 0 2.96 -5.87 2.46 -5.87 2.15 -5.25 1.39 -4.71 0.51 -4.39 0.51 -3.69 1.23 -3.95 1.89 -4.35 2.25 -4.71 2.25 0Z" class="one"/></g>
<g transform="translate(204.01 213.7) scale(1.2 0.88) rotate(90)"><text x="0" y="0" font-size="8.2" class="xr">2</text></g>
<g transform="translate(213.65 213.7) scale(1.2 0.88) rotate(90)"><path d="M2.96 0 2.96 -5.87 2.46 -5.87 2.15 -5.25 1.39 -4.71 0.51 -4.39 0.51 -3.69 1.23 -3.95 1.89 -4.35 2.25 -4.71 2.25 0Z" class="one"/><text x="4.56" y="0" font-size="8.2" class="xr">8</text></g>
<g transform="translate(223.3 213.7) scale(1.2 0.88) rotate(90)"><path d="M2.96 0 2.96 -5.87 2.46 -5.87 2.15 -5.25 1.39 -4.71 0.51 -4.39 0.51 -3.69 1.23 -3.95 1.89 -4.35 2.25 -4.71 2.25 0Z" class="one"/><text x="4.56" y="0" font-size="8.2" class="xr">9</text></g>
<g transform="translate(232.94 213.7) scale(1.2 0.88) rotate(90)"><text x="0" y="0" font-size="8.2" class="xr">2</text><text x="4.56" y="0" font-size="8.2" class="xr">0</text></g>
<text transform="translate(242.33 213.7) scale(1.2 1) rotate(90)" font-size="8.8" class="xr">pbmc</text>
<text transform="translate(251.98 213.7) scale(1.2 1) rotate(90)" font-size="8.8" class="xr">BM</text>
<text transform="translate(65.41 136.2) scale(0.98 1)" font-size="14.23">miRNA-206</text>
<text transform="translate(13 169.2) rotate(-90)" text-anchor="middle" class="yt" font-size="9.2">miRNA expression</text>
<text transform="translate(24.6 167.8) rotate(-90)" text-anchor="middle" class="yt" font-size="8.8">(fold of control)</text>
<rect x="315.6" y="180.36" width="2.94" height="23.04" fill="#fff" stroke="#555" stroke-width="0.7"/>
<rect x="318.64" y="168.06" width="3.4" height="35.34" fill="#000"/>
<path d="M317.07 180.36V176.72M315.47 176.72H318.67" stroke="#555" stroke-width="0.8" fill="none"/>
<path d="M320.34 168.06V164.42M318.64 164.42H322.04" stroke="#555" stroke-width="0.8" fill="none"/>
<rect x="324.78" y="189.97" width="2.94" height="13.43" fill="#fff" stroke="#555" stroke-width="0.7"/>
<rect x="327.82" y="188.24" width="3.4" height="15.16" fill="#000"/>
<path d="M329.52 188.24V183.13M327.82 183.13H331.22" stroke="#555" stroke-width="0.8" fill="none"/>
<rect x="333.97" y="185.99" width="2.94" height="17.41" fill="#fff" stroke="#555" stroke-width="0.7"/>
<rect x="337" y="187.81" width="3.4" height="15.59" fill="#000"/>
<path d="M338.7 187.81V184.78M337 184.78H340.4" stroke="#555" stroke-width="0.8" fill="none"/>
<rect x="343.15" y="192.14" width="2.94" height="11.26" fill="#fff" stroke="#555" stroke-width="0.7"/>
<rect x="346.19" y="190.49" width="3.4" height="12.91" fill="#000"/>
<path d="M347.88 190.49V188.5M346.18 188.5H349.58" stroke="#555" stroke-width="0.8" fill="none"/>
<rect x="352.33" y="164.42" width="2.94" height="38.98" fill="#fff" stroke="#555" stroke-width="0.7"/>
<rect x="355.37" y="168.06" width="3.4" height="35.34" fill="#000"/>
<path d="M353.8 164.42V160.43M352.2 160.43H355.4" stroke="#555" stroke-width="0.8" fill="none"/>
<rect x="361.51" y="172.99" width="2.94" height="30.41" fill="#fff" stroke="#555" stroke-width="0.7"/>
<rect x="364.55" y="167.28" width="3.4" height="36.12" fill="#000"/>
<path d="M362.98 172.99V170.31M361.38 170.31H364.58" stroke="#555" stroke-width="0.8" fill="none"/>
<rect x="370.69" y="170.05" width="2.94" height="33.35" fill="#fff" stroke="#555" stroke-width="0.7"/>
<rect x="373.73" y="168.06" width="3.4" height="35.34" fill="#000"/>
<rect x="379.87" y="192.49" width="2.94" height="10.91" fill="#fff" stroke="#555" stroke-width="0.7"/>
<rect x="382.91" y="189.02" width="3.4" height="14.38" fill="#000"/>
<rect x="389.06" y="192.66" width="2.94" height="10.74" fill="#fff" stroke="#555" stroke-width="0.7"/>
<rect x="392.09" y="187.46" width="3.4" height="15.94" fill="#000"/>
<rect x="398.24" y="175.33" width="2.94" height="28.07" fill="#fff" stroke="#555" stroke-width="0.7"/>
<rect x="401.28" y="166.06" width="3.4" height="37.34" fill="#000"/>
<path d="M399.71 175.33V173.17M398.11 173.17H401.31" stroke="#555" stroke-width="0.8" fill="none"/>
<rect x="407.42" y="166.84" width="2.94" height="36.56" fill="#fff" stroke="#555" stroke-width="0.7"/>
<rect x="410.46" y="166.06" width="3.4" height="37.34" fill="#000"/>
<path d="M408.89 166.84V163.29M407.29 163.29H410.49" stroke="#555" stroke-width="0.8" fill="none"/>
<rect x="416.6" y="174.03" width="2.94" height="29.37" fill="#fff" stroke="#555" stroke-width="0.7"/>
<rect x="419.64" y="166.84" width="3.4" height="36.56" fill="#000"/>
<path d="M418.07 174.03V172.13M416.47 172.13H419.67" stroke="#555" stroke-width="0.8" fill="none"/>
<rect x="425.78" y="180.27" width="2.94" height="23.13" fill="#fff" stroke="#555" stroke-width="0.7"/>
<rect x="428.82" y="167.71" width="3.4" height="35.69" fill="#000"/>
<path d="M427.25 180.27V178.8M425.65 178.8H428.85" stroke="#555" stroke-width="0.8" fill="none"/>
<rect x="434.97" y="189.8" width="2.94" height="13.6" fill="#fff" stroke="#555" stroke-width="0.7"/>
<rect x="438" y="160.09" width="3.4" height="43.31" fill="#000"/>
<rect x="444.15" y="179.58" width="2.94" height="23.82" fill="#fff" stroke="#555" stroke-width="0.7"/>
<rect x="447.19" y="162.43" width="3.4" height="40.97" fill="#000"/>
<path d="M445.62 179.58V178.28M444.02 178.28H447.22" stroke="#555" stroke-width="0.8" fill="none"/>
<rect x="453.33" y="191.1" width="2.94" height="12.3" fill="#fff" stroke="#555" stroke-width="0.7"/>
<rect x="456.37" y="158.01" width="3.4" height="45.39" fill="#000"/>
<rect x="462.51" y="192.49" width="2.94" height="10.91" fill="#fff" stroke="#555" stroke-width="0.7"/>
<rect x="465.55" y="158.01" width="3.4" height="45.39" fill="#000"/>
<rect x="471.69" y="151.43" width="2.94" height="51.98" fill="#fff" stroke="#555" stroke-width="0.7"/>
<rect x="474.73" y="141.03" width="3.4" height="62.37" fill="#000"/>
<path d="M473.16 151.43V146.57M471.56 146.57H474.76" stroke="#555" stroke-width="0.8" fill="none"/>
<rect x="480.87" y="166.67" width="2.94" height="36.73" fill="#fff" stroke="#555" stroke-width="0.7"/>
<rect x="483.91" y="169.79" width="3.4" height="33.61" fill="#000"/>
<path d="M482.34 166.67V163.29M480.74 163.29H483.94" stroke="#555" stroke-width="0.8" fill="none"/>
<rect x="490.06" y="160.69" width="2.94" height="42.71" fill="#fff" stroke="#555" stroke-width="0.7"/>
<rect x="493.09" y="150.82" width="3.4" height="52.58" fill="#000"/>
<path d="M491.53 160.69V156.8M489.93 156.8H493.13" stroke="#555" stroke-width="0.8" fill="none"/>
<rect x="499.24" y="202.53" width="2.94" height="0.87" fill="#fff" stroke="#555" stroke-width="0.7"/>
<rect x="502.28" y="202.1" width="3.4" height="1.3" fill="#000"/>
<rect x="508.42" y="202.53" width="2.94" height="0.87" fill="#fff" stroke="#555" stroke-width="0.7"/>
<rect x="511.46" y="202.1" width="3.4" height="1.3" fill="#000"/>
<path d="M314.5 134.1V203.4H516.5" stroke="#7a7a7a" stroke-width="1" fill="none"/>
<path d="M311.5 203.4H314.5" stroke="#7a7a7a" stroke-width="1"/>
<text x="307.1" y="205.5" text-anchor="end" class="b" font-size="8.6">0</text>
<path d="M311.5 186.07H314.5" stroke="#7a7a7a" stroke-width="1"/>
<text x="307.1" y="188.17" text-anchor="end" class="b" font-size="8.6">20</text>
<path d="M311.5 168.75H314.5" stroke="#7a7a7a" stroke-width="1"/>
<text x="307.1" y="170.85" text-anchor="end" class="b" font-size="8.6">40</text>
<path d="M311.5 151.43H314.5" stroke="#7a7a7a" stroke-width="1"/>
<text x="307.1" y="153.52" text-anchor="end" class="b" font-size="8.6">60</text>
<path d="M311.5 134.1H314.5" stroke="#7a7a7a" stroke-width="1"/>
<text x="307.1" y="136.2" text-anchor="end" class="b" font-size="8.6">80</text>
<path d="M314.5 203.4V206.4" stroke="#7a7a7a" stroke-width="1"/>
<path d="M323.68 203.4V206.4" stroke="#7a7a7a" stroke-width="1"/>
<path d="M332.86 203.4V206.4" stroke="#7a7a7a" stroke-width="1"/>
<path d="M342.05 203.4V206.4" stroke="#7a7a7a" stroke-width="1"/>
<path d="M351.23 203.4V206.4" stroke="#7a7a7a" stroke-width="1"/>
<path d="M360.41 203.4V206.4" stroke="#7a7a7a" stroke-width="1"/>
<path d="M369.59 203.4V206.4" stroke="#7a7a7a" stroke-width="1"/>
<path d="M378.77 203.4V206.4" stroke="#7a7a7a" stroke-width="1"/>
<path d="M387.95 203.4V206.4" stroke="#7a7a7a" stroke-width="1"/>
<path d="M397.14 203.4V206.4" stroke="#7a7a7a" stroke-width="1"/>
<path d="M406.32 203.4V206.4" stroke="#7a7a7a" stroke-width="1"/>
<path d="M415.5 203.4V206.4" stroke="#7a7a7a" stroke-width="1"/>
<path d="M424.68 203.4V206.4" stroke="#7a7a7a" stroke-width="1"/>
<path d="M433.86 203.4V206.4" stroke="#7a7a7a" stroke-width="1"/>
<path d="M443.05 203.4V206.4" stroke="#7a7a7a" stroke-width="1"/>
<path d="M452.23 203.4V206.4" stroke="#7a7a7a" stroke-width="1"/>
<path d="M461.41 203.4V206.4" stroke="#7a7a7a" stroke-width="1"/>
<path d="M470.59 203.4V206.4" stroke="#7a7a7a" stroke-width="1"/>
<path d="M479.77 203.4V206.4" stroke="#7a7a7a" stroke-width="1"/>
<path d="M488.95 203.4V206.4" stroke="#7a7a7a" stroke-width="1"/>
<path d="M498.14 203.4V206.4" stroke="#7a7a7a" stroke-width="1"/>
<path d="M507.32 203.4V206.4" stroke="#7a7a7a" stroke-width="1"/>
<path d="M516.5 203.4V206.4" stroke="#7a7a7a" stroke-width="1"/>
<g transform="translate(315.03 211) scale(1.2 0.88) rotate(90)"><path d="M2.89 0 2.89 -5.73 2.4 -5.73 2.1 -5.12 1.36 -4.6 0.5 -4.28 0.5 -3.6 1.2 -3.86 1.84 -4.24 2.19 -4.6 2.19 0Z" class="one"/><text x="4.45" y="0" font-size="8" class="xr">3</text></g>
<g transform="translate(324.22 211) scale(1.2 0.88) rotate(90)"><path d="M2.89 0 2.89 -5.73 2.4 -5.73 2.1 -5.12 1.36 -4.6 0.5 -4.28 0.5 -3.6 1.2 -3.86 1.84 -4.24 2.19 -4.6 2.19 0Z" class="one"/><text x="4.45" y="0" font-size="8" class="xr">4</text></g>
<g transform="translate(333.4 211) scale(1.2 0.88) rotate(90)"><path d="M2.89 0 2.89 -5.73 2.4 -5.73 2.1 -5.12 1.36 -4.6 0.5 -4.28 0.5 -3.6 1.2 -3.86 1.84 -4.24 2.19 -4.6 2.19 0Z" class="one"/><text x="4.45" y="0" font-size="8" class="xr">5</text></g>
<g transform="translate(342.58 211) scale(1.2 0.88) rotate(90)"><path d="M2.89 0 2.89 -5.73 2.4 -5.73 2.1 -5.12 1.36 -4.6 0.5 -4.28 0.5 -3.6 1.2 -3.86 1.84 -4.24 2.19 -4.6 2.19 0Z" class="one"/><text x="4.45" y="0" font-size="8" class="xr">6</text></g>
<g transform="translate(351.76 211) scale(1.2 0.88) rotate(90)"><text x="0" y="0" font-size="8" class="xr">7</text></g>
<g transform="translate(360.94 211) scale(1.2 0.88) rotate(90)"><path d="M2.89 0 2.89 -5.73 2.4 -5.73 2.1 -5.12 1.36 -4.6 0.5 -4.28 0.5 -3.6 1.2 -3.86 1.84 -4.24 2.19 -4.6 2.19 0Z" class="one"/><path d="M7.34 0 7.34 -5.73 6.85 -5.73 6.54 -5.12 5.81 -4.6 4.94 -4.28 4.94 -3.6 5.65 -3.86 6.29 -4.24 6.64 -4.6 6.64 0Z" class="one"/></g>
<g transform="translate(370.13 211) scale(1.2 0.88) rotate(90)"><path d="M2.89 0 2.89 -5.73 2.4 -5.73 2.1 -5.12 1.36 -4.6 0.5 -4.28 0.5 -3.6 1.2 -3.86 1.84 -4.24 2.19 -4.6 2.19 0Z" class="one"/><text x="4.45" y="0" font-size="8" class="xr">0</text></g>
<g transform="translate(379.31 211) scale(1.2 0.88) rotate(90)"><path d="M2.89 0 2.89 -5.73 2.4 -5.73 2.1 -5.12 1.36 -4.6 0.5 -4.28 0.5 -3.6 1.2 -3.86 1.84 -4.24 2.19 -4.6 2.19 0Z" class="one"/><text x="4.45" y="0" font-size="8" class="xr">7</text></g>
<g transform="translate(388.49 211) scale(1.2 0.88) rotate(90)"><path d="M2.89 0 2.89 -5.73 2.4 -5.73 2.1 -5.12 1.36 -4.6 0.5 -4.28 0.5 -3.6 1.2 -3.86 1.84 -4.24 2.19 -4.6 2.19 0Z" class="one"/><text x="4.45" y="0" font-size="8" class="xr">2</text></g>
<g transform="translate(397.67 211) scale(1.2 0.88) rotate(90)"><text x="0" y="0" font-size="8" class="xr">3</text></g>
<g transform="translate(406.85 211) scale(1.2 0.88) rotate(90)"><text x="0" y="0" font-size="8" class="xr">4</text></g>
<g transform="translate(416.03 211) scale(1.2 0.88) rotate(90)"><text x="0" y="0" font-size="8" class="xr">8</text></g>
<g transform="translate(425.22 211) scale(1.2 0.88) rotate(90)"><text x="0" y="0" font-size="8" class="xr">6</text></g>
<g transform="translate(434.4 211) scale(1.2 0.88) rotate(90)"><text x="0" y="0" font-size="8" class="xr">9</text></g>
<g transform="translate(443.58 211) scale(1.2 0.88) rotate(90)"><text x="0" y="0" font-size="8" class="xr">5</text></g>
<g transform="translate(452.76 211) scale(1.2 0.88) rotate(90)"><path d="M2.89 0 2.89 -5.73 2.4 -5.73 2.1 -5.12 1.36 -4.6 0.5 -4.28 0.5 -3.6 1.2 -3.86 1.84 -4.24 2.19 -4.6 2.19 0Z" class="one"/></g>
<g transform="translate(461.94 211) scale(1.2 0.88) rotate(90)"><text x="0" y="0" font-size="8" class="xr">2</text></g>
<g transform="translate(471.13 211) scale(1.2 0.88) rotate(90)"><path d="M2.89 0 2.89 -5.73 2.4 -5.73 2.1 -5.12 1.36 -4.6 0.5 -4.28 0.5 -3.6 1.2 -3.86 1.84 -4.24 2.19 -4.6 2.19 0Z" class="one"/><text x="4.45" y="0" font-size="8" class="xr">8</text></g>
<g transform="translate(480.31 211) scale(1.2 0.88) rotate(90)"><path d="M2.89 0 2.89 -5.73 2.4 -5.73 2.1 -5.12 1.36 -4.6 0.5 -4.28 0.5 -3.6 1.2 -3.86 1.84 -4.24 2.19 -4.6 2.19 0Z" class="one"/><text x="4.45" y="0" font-size="8" class="xr">9</text></g>
<g transform="translate(489.49 211) scale(1.2 0.88) rotate(90)"><text x="0" y="0" font-size="8" class="xr">2</text><text x="4.45" y="0" font-size="8" class="xr">0</text></g>
<text transform="translate(498.41 211) scale(1.2 1) rotate(90)" font-size="8.6" class="xr">pbmc</text>
<text transform="translate(507.59 211) scale(1.2 1) rotate(90)" font-size="8.6" class="xr">BM</text>
<text transform="translate(328.51 133.9) scale(0.98 1)" font-size="13.4">miRNA-363*</text>
<text transform="translate(279.4 169) rotate(-90)" text-anchor="middle" class="yt" font-size="8.6">miRAN expression</text>
<text transform="translate(291.1 167.5) rotate(-90)" text-anchor="middle" class="yt" font-size="8.4">(fold of control)</text>
<rect x="46.36" y="296.25" width="3.1" height="41.25" fill="#fff" stroke="#555" stroke-width="0.7"/>
<rect x="49.57" y="280.59" width="3.59" height="56.91" fill="#000"/>
<path d="M51.36 280.59V278.05M49.66 278.05H53.06" stroke="#555" stroke-width="0.8" fill="none"/>
<rect x="56.06" y="311.41" width="3.1" height="26.09" fill="#fff" stroke="#555" stroke-width="0.7"/>
<rect x="59.27" y="315.3" width="3.59" height="22.2" fill="#000"/>
<path d="M61.06 315.3V313.72M59.36 313.72H62.76" stroke="#555" stroke-width="0.8" fill="none"/>
<rect x="65.76" y="315.3" width="3.1" height="22.2" fill="#fff" stroke="#555" stroke-width="0.7"/>
<rect x="68.97" y="313.72" width="3.59" height="23.78" fill="#000"/>
<path d="M70.76 313.72V309.11M69.06 309.11H72.46" stroke="#555" stroke-width="0.8" fill="none"/>
<rect x="75.46" y="312.14" width="3.1" height="25.36" fill="#fff" stroke="#555" stroke-width="0.7"/>
<rect x="78.67" y="314.81" width="3.59" height="22.69" fill="#000"/>
<path d="M80.46 314.81V310.56M78.76 310.56H82.16" stroke="#555" stroke-width="0.8" fill="none"/>
<rect x="85.16" y="299.04" width="3.1" height="38.46" fill="#fff" stroke="#555" stroke-width="0.7"/>
<rect x="88.37" y="288.6" width="3.59" height="48.9" fill="#000"/>
<rect x="94.86" y="301.34" width="3.1" height="36.16" fill="#fff" stroke="#555" stroke-width="0.7"/>
<rect x="98.07" y="293.94" width="3.59" height="43.56" fill="#000"/>
<path d="M99.86 293.94V292.61M98.16 292.61H101.56" stroke="#555" stroke-width="0.8" fill="none"/>
<rect x="104.56" y="301.34" width="3.1" height="36.16" fill="#fff" stroke="#555" stroke-width="0.7"/>
<rect x="107.77" y="289.82" width="3.59" height="47.68" fill="#000"/>
<path d="M109.56 289.82V288.6M107.86 288.6H111.26" stroke="#555" stroke-width="0.8" fill="none"/>
<rect x="114.26" y="314.45" width="3.1" height="23.05" fill="#fff" stroke="#555" stroke-width="0.7"/>
<rect x="117.47" y="315.3" width="3.59" height="22.2" fill="#000"/>
<rect x="123.96" y="313.72" width="3.1" height="23.78" fill="#fff" stroke="#555" stroke-width="0.7"/>
<rect x="127.17" y="309.11" width="3.59" height="28.39" fill="#000"/>
<path d="M128.96 309.11V307.65M127.26 307.65H130.66" stroke="#555" stroke-width="0.8" fill="none"/>
<rect x="133.66" y="299.4" width="3.1" height="38.1" fill="#fff" stroke="#555" stroke-width="0.7"/>
<rect x="136.87" y="291.03" width="3.59" height="46.47" fill="#000"/>
<path d="M138.66 291.03V288M136.96 288H140.36" stroke="#555" stroke-width="0.8" fill="none"/>
<rect x="143.36" y="300.61" width="3.1" height="36.89" fill="#fff" stroke="#555" stroke-width="0.7"/>
<rect x="146.57" y="289.09" width="3.59" height="48.41" fill="#000"/>
<path d="M148.36 289.09V287.15M146.66 287.15H150.06" stroke="#555" stroke-width="0.8" fill="none"/>
<rect x="153.06" y="300.61" width="3.1" height="36.89" fill="#fff" stroke="#555" stroke-width="0.7"/>
<rect x="156.27" y="287.15" width="3.59" height="50.35" fill="#000"/>
<rect x="162.76" y="289.57" width="3.1" height="47.93" fill="#fff" stroke="#555" stroke-width="0.7"/>
<rect x="165.97" y="281.44" width="3.59" height="56.06" fill="#000"/>
<path d="M167.76 281.44V279.38M166.06 279.38H169.46" stroke="#555" stroke-width="0.8" fill="none"/>
<rect x="172.46" y="294.55" width="3.1" height="42.95" fill="#fff" stroke="#555" stroke-width="0.7"/>
<rect x="175.67" y="281.81" width="3.59" height="55.69" fill="#000"/>
<path d="M177.46 281.81V280.59M175.76 280.59H179.16" stroke="#555" stroke-width="0.8" fill="none"/>
<rect x="182.16" y="279.26" width="3.1" height="58.24" fill="#fff" stroke="#555" stroke-width="0.7"/>
<rect x="185.37" y="281.81" width="3.59" height="55.69" fill="#000"/>
<rect x="191.86" y="284.23" width="3.1" height="53.27" fill="#fff" stroke="#555" stroke-width="0.7"/>
<rect x="195.07" y="280.11" width="3.59" height="57.39" fill="#000"/>
<rect x="201.56" y="291.64" width="3.1" height="45.86" fill="#fff" stroke="#555" stroke-width="0.7"/>
<rect x="204.77" y="280.47" width="3.59" height="57.03" fill="#000"/>
<rect x="211.26" y="299.52" width="3.1" height="37.98" fill="#fff" stroke="#555" stroke-width="0.7"/>
<rect x="214.47" y="283.75" width="3.59" height="53.75" fill="#000"/>
<rect x="220.96" y="282.54" width="3.1" height="54.96" fill="#fff" stroke="#555" stroke-width="0.7"/>
<rect x="224.17" y="274.89" width="3.59" height="62.61" fill="#000"/>
<rect x="230.66" y="304.38" width="3.1" height="33.12" fill="#fff" stroke="#555" stroke-width="0.7"/>
<rect x="233.87" y="297.34" width="3.59" height="40.16" fill="#000"/>
<rect x="240.36" y="336.77" width="3.1" height="0.73" fill="#fff" stroke="#555" stroke-width="0.7"/>
<rect x="243.57" y="336.41" width="3.59" height="1.09" fill="#000"/>
<rect x="250.06" y="336.77" width="3.1" height="0.73" fill="#fff" stroke="#555" stroke-width="0.7"/>
<rect x="253.27" y="336.41" width="3.59" height="1.09" fill="#000"/>
<path d="M45.2 264.7V337.5H258.6" stroke="#7a7a7a" stroke-width="1" fill="none"/>
<path d="M42.2 337.5H45.2" stroke="#7a7a7a" stroke-width="1"/>
<text x="38" y="340.24" text-anchor="end" class="b" font-size="9">0</text>
<path d="M42.2 319.3H45.2" stroke="#7a7a7a" stroke-width="1"/>
<text x="38" y="322.04" text-anchor="end" class="b" font-size="9">15</text>
<path d="M42.2 301.1H45.2" stroke="#7a7a7a" stroke-width="1"/>
<text x="38" y="303.84" text-anchor="end" class="b" font-size="9">30</text>
<path d="M42.2 282.9H45.2" stroke="#7a7a7a" stroke-width="1"/>
<text x="38" y="285.64" text-anchor="end" class="b" font-size="9">45</text>
<path d="M42.2 264.7H45.2" stroke="#7a7a7a" stroke-width="1"/>
<text x="38" y="267.44" text-anchor="end" class="b" font-size="9">60</text>
<path d="M45.2 337.5V340.5" stroke="#7a7a7a" stroke-width="1"/>
<path d="M54.9 337.5V340.5" stroke="#7a7a7a" stroke-width="1"/>
<path d="M64.6 337.5V340.5" stroke="#7a7a7a" stroke-width="1"/>
<path d="M74.3 337.5V340.5" stroke="#7a7a7a" stroke-width="1"/>
<path d="M84 337.5V340.5" stroke="#7a7a7a" stroke-width="1"/>
<path d="M93.7 337.5V340.5" stroke="#7a7a7a" stroke-width="1"/>
<path d="M103.4 337.5V340.5" stroke="#7a7a7a" stroke-width="1"/>
<path d="M113.1 337.5V340.5" stroke="#7a7a7a" stroke-width="1"/>
<path d="M122.8 337.5V340.5" stroke="#7a7a7a" stroke-width="1"/>
<path d="M132.5 337.5V340.5" stroke="#7a7a7a" stroke-width="1"/>
<path d="M142.2 337.5V340.5" stroke="#7a7a7a" stroke-width="1"/>
<path d="M151.9 337.5V340.5" stroke="#7a7a7a" stroke-width="1"/>
<path d="M161.6 337.5V340.5" stroke="#7a7a7a" stroke-width="1"/>
<path d="M171.3 337.5V340.5" stroke="#7a7a7a" stroke-width="1"/>
<path d="M181 337.5V340.5" stroke="#7a7a7a" stroke-width="1"/>
<path d="M190.7 337.5V340.5" stroke="#7a7a7a" stroke-width="1"/>
<path d="M200.4 337.5V340.5" stroke="#7a7a7a" stroke-width="1"/>
<path d="M210.1 337.5V340.5" stroke="#7a7a7a" stroke-width="1"/>
<path d="M219.8 337.5V340.5" stroke="#7a7a7a" stroke-width="1"/>
<path d="M229.5 337.5V340.5" stroke="#7a7a7a" stroke-width="1"/>
<path d="M239.2 337.5V340.5" stroke="#7a7a7a" stroke-width="1"/>
<path d="M248.9 337.5V340.5" stroke="#7a7a7a" stroke-width="1"/>
<path d="M258.6 337.5V340.5" stroke="#7a7a7a" stroke-width="1"/>
<g transform="translate(45.91 345.7) scale(1.2 0.88) rotate(90)"><path d="M2.96 0 2.96 -5.87 2.46 -5.87 2.15 -5.25 1.39 -4.71 0.51 -4.39 0.51 -3.69 1.23 -3.95 1.89 -4.35 2.25 -4.71 2.25 0Z" class="one"/><text x="4.56" y="0" font-size="8.2" class="xr">3</text></g>
<g transform="translate(55.61 345.7) scale(1.2 0.88) rotate(90)"><path d="M2.96 0 2.96 -5.87 2.46 -5.87 2.15 -5.25 1.39 -4.71 0.51 -4.39 0.51 -3.69 1.23 -3.95 1.89 -4.35 2.25 -4.71 2.25 0Z" class="one"/><text x="4.56" y="0" font-size="8.2" class="xr">4</text></g>
<g transform="translate(65.31 345.7) scale(1.2 0.88) rotate(90)"><path d="M2.96 0 2.96 -5.87 2.46 -5.87 2.15 -5.25 1.39 -4.71 0.51 -4.39 0.51 -3.69 1.23 -3.95 1.89 -4.35 2.25 -4.71 2.25 0Z" class="one"/><text x="4.56" y="0" font-size="8.2" class="xr">5</text></g>
<g transform="translate(75.01 345.7) scale(1.2 0.88) rotate(90)"><path d="M2.96 0 2.96 -5.87 2.46 -5.87 2.15 -5.25 1.39 -4.71 0.51 -4.39 0.51 -3.69 1.23 -3.95 1.89 -4.35 2.25 -4.71 2.25 0Z" class="one"/><text x="4.56" y="0" font-size="8.2" class="xr">6</text></g>
<g transform="translate(84.71 345.7) scale(1.2 0.88) rotate(90)"><text x="0" y="0" font-size="8.2" class="xr">7</text></g>
<g transform="translate(94.41 345.7) scale(1.2 0.88) rotate(90)"><path d="M2.96 0 2.96 -5.87 2.46 -5.87 2.15 -5.25 1.39 -4.71 0.51 -4.39 0.51 -3.69 1.23 -3.95 1.89 -4.35 2.25 -4.71 2.25 0Z" class="one"/><path d="M7.52 0 7.52 -5.87 7.02 -5.87 6.71 -5.25 5.95 -4.71 5.07 -4.39 5.07 -3.69 5.79 -3.95 6.45 -4.35 6.81 -4.71 6.81 0Z" class="one"/></g>
<g transform="translate(104.11 345.7) scale(1.2 0.88) rotate(90)"><path d="M2.96 0 2.96 -5.87 2.46 -5.87 2.15 -5.25 1.39 -4.71 0.51 -4.39 0.51 -3.69 1.23 -3.95 1.89 -4.35 2.25 -4.71 2.25 0Z" class="one"/><text x="4.56" y="0" font-size="8.2" class="xr">0</text></g>
<g transform="translate(113.81 345.7) scale(1.2 0.88) rotate(90)"><path d="M2.96 0 2.96 -5.87 2.46 -5.87 2.15 -5.25 1.39 -4.71 0.51 -4.39 0.51 -3.69 1.23 -3.95 1.89 -4.35 2.25 -4.71 2.25 0Z" class="one"/><text x="4.56" y="0" font-size="8.2" class="xr">7</text></g>
<g transform="translate(123.51 345.7) scale(1.2 0.88) rotate(90)"><path d="M2.96 0 2.96 -5.87 2.46 -5.87 2.15 -5.25 1.39 -4.71 0.51 -4.39 0.51 -3.69 1.23 -3.95 1.89 -4.35 2.25 -4.71 2.25 0Z" class="one"/><text x="4.56" y="0" font-size="8.2" class="xr">2</text></g>
<g transform="translate(133.21 345.7) scale(1.2 0.88) rotate(90)"><text x="0" y="0" font-size="8.2" class="xr">3</text></g>
<g transform="translate(142.91 345.7) scale(1.2 0.88) rotate(90)"><text x="0" y="0" font-size="8.2" class="xr">4</text></g>
<g transform="translate(152.61 345.7) scale(1.2 0.88) rotate(90)"><text x="0" y="0" font-size="8.2" class="xr">8</text></g>
<g transform="translate(162.31 345.7) scale(1.2 0.88) rotate(90)"><text x="0" y="0" font-size="8.2" class="xr">6</text></g>
<g transform="translate(172.01 345.7) scale(1.2 0.88) rotate(90)"><text x="0" y="0" font-size="8.2" class="xr">9</text></g>
<g transform="translate(181.71 345.7) scale(1.2 0.88) rotate(90)"><text x="0" y="0" font-size="8.2" class="xr">5</text></g>
<g transform="translate(191.41 345.7) scale(1.2 0.88) rotate(90)"><path d="M2.96 0 2.96 -5.87 2.46 -5.87 2.15 -5.25 1.39 -4.71 0.51 -4.39 0.51 -3.69 1.23 -3.95 1.89 -4.35 2.25 -4.71 2.25 0Z" class="one"/></g>
<g transform="translate(201.11 345.7) scale(1.2 0.88) rotate(90)"><text x="0" y="0" font-size="8.2" class="xr">2</text></g>
<g transform="translate(210.81 345.7) scale(1.2 0.88) rotate(90)"><path d="M2.96 0 2.96 -5.87 2.46 -5.87 2.15 -5.25 1.39 -4.71 0.51 -4.39 0.51 -3.69 1.23 -3.95 1.89 -4.35 2.25 -4.71 2.25 0Z" class="one"/><text x="4.56" y="0" font-size="8.2" class="xr">8</text></g>
<g transform="translate(220.51 345.7) scale(1.2 0.88) rotate(90)"><path d="M2.96 0 2.96 -5.87 2.46 -5.87 2.15 -5.25 1.39 -4.71 0.51 -4.39 0.51 -3.69 1.23 -3.95 1.89 -4.35 2.25 -4.71 2.25 0Z" class="one"/><text x="4.56" y="0" font-size="8.2" class="xr">9</text></g>
<g transform="translate(230.21 345.7) scale(1.2 0.88) rotate(90)"><text x="0" y="0" font-size="8.2" class="xr">2</text><text x="4.56" y="0" font-size="8.2" class="xr">0</text></g>
<text transform="translate(239.65 345.7) scale(1.2 1) rotate(90)" font-size="8.8" class="xr">pbmc</text>
<text transform="translate(249.35 345.7) scale(1.2 1) rotate(90)" font-size="8.8" class="xr">BM</text>
<text transform="translate(61.11 265.2) scale(0.98 1)" font-size="14.33">miRNA-494</text>
<text transform="translate(9.1 301.6) rotate(-90)" text-anchor="middle" class="yt" font-size="9">miRNA expression</text>
<text transform="translate(21.1 299.3) rotate(-90)" text-anchor="middle" class="yt" font-size="8.8">(fold of control)</text>
<rect x="307.36" y="292.8" width="3.09" height="43.2" fill="#fff" stroke="#555" stroke-width="0.7"/>
<rect x="310.54" y="292.8" width="3.57" height="43.2" fill="#000"/>
<path d="M312.33 292.8V290.5M310.63 290.5H314.03" stroke="#555" stroke-width="0.8" fill="none"/>
<rect x="317" y="315.19" width="3.09" height="20.81" fill="#fff" stroke="#555" stroke-width="0.7"/>
<rect x="320.19" y="320.63" width="3.57" height="15.37" fill="#000"/>
<path d="M318.55 315.19V314.7M316.95 314.7H320.15" stroke="#555" stroke-width="0.8" fill="none"/>
<path d="M321.97 320.63V315.19M320.27 315.19H323.67" stroke="#555" stroke-width="0.8" fill="none"/>
<rect x="326.65" y="328.98" width="3.09" height="7.02" fill="#fff" stroke="#555" stroke-width="0.7"/>
<rect x="329.83" y="321.84" width="3.57" height="14.16" fill="#000"/>
<path d="M331.62 321.84V316.16M329.92 316.16H333.32" stroke="#555" stroke-width="0.8" fill="none"/>
<rect x="336.29" y="313.25" width="3.09" height="22.75" fill="#fff" stroke="#555" stroke-width="0.7"/>
<rect x="339.48" y="316.76" width="3.57" height="19.24" fill="#000"/>
<path d="M341.26 316.76V315.19M339.56 315.19H342.96" stroke="#555" stroke-width="0.8" fill="none"/>
<rect x="345.94" y="307.93" width="3.09" height="28.07" fill="#fff" stroke="#555" stroke-width="0.7"/>
<rect x="349.13" y="297.16" width="3.57" height="38.84" fill="#000"/>
<path d="M350.91 297.16V294.38M349.21 294.38H352.61" stroke="#555" stroke-width="0.8" fill="none"/>
<rect x="355.58" y="303.94" width="3.09" height="32.07" fill="#fff" stroke="#555" stroke-width="0.7"/>
<rect x="358.77" y="301.76" width="3.57" height="34.24" fill="#000"/>
<path d="M360.56 301.76V298.49M358.86 298.49H362.26" stroke="#555" stroke-width="0.8" fill="none"/>
<rect x="365.23" y="302.85" width="3.09" height="33.15" fill="#fff" stroke="#555" stroke-width="0.7"/>
<rect x="368.42" y="298.25" width="3.57" height="37.75" fill="#000"/>
<path d="M370.2 298.25V294.38M368.5 294.38H371.9" stroke="#555" stroke-width="0.8" fill="none"/>
<rect x="374.88" y="312.04" width="3.09" height="23.96" fill="#fff" stroke="#555" stroke-width="0.7"/>
<rect x="378.06" y="317.49" width="3.57" height="18.51" fill="#000"/>
<path d="M379.85 317.49V314.46M378.15 314.46H381.55" stroke="#555" stroke-width="0.8" fill="none"/>
<rect x="384.52" y="321.36" width="3.09" height="14.64" fill="#fff" stroke="#555" stroke-width="0.7"/>
<rect x="387.71" y="314.46" width="3.57" height="21.54" fill="#000"/>
<path d="M389.49 314.46V311.32M387.79 311.32H391.19" stroke="#555" stroke-width="0.8" fill="none"/>
<rect x="394.17" y="299.82" width="3.09" height="36.18" fill="#fff" stroke="#555" stroke-width="0.7"/>
<rect x="397.35" y="295.1" width="3.57" height="40.9" fill="#000"/>
<path d="M399.14 295.1V292.8M397.44 292.8H400.84" stroke="#555" stroke-width="0.8" fill="none"/>
<rect x="403.81" y="306.36" width="3.09" height="29.65" fill="#fff" stroke="#555" stroke-width="0.7"/>
<rect x="407" y="294.74" width="3.57" height="41.26" fill="#000"/>
<path d="M408.78 294.74V292.56M407.08 292.56H410.48" stroke="#555" stroke-width="0.8" fill="none"/>
<rect x="413.46" y="297.16" width="3.09" height="38.84" fill="#fff" stroke="#555" stroke-width="0.7"/>
<rect x="416.64" y="294.38" width="3.57" height="41.62" fill="#000"/>
<path d="M418.43 294.38V292.56M416.73 292.56H420.13" stroke="#555" stroke-width="0.8" fill="none"/>
<rect x="423.1" y="296.19" width="3.09" height="39.81" fill="#fff" stroke="#555" stroke-width="0.7"/>
<rect x="426.29" y="277.68" width="3.57" height="58.32" fill="#000"/>
<path d="M428.07 277.68V275.62M426.37 275.62H429.77" stroke="#555" stroke-width="0.8" fill="none"/>
<rect x="432.75" y="301.76" width="3.09" height="34.24" fill="#fff" stroke="#555" stroke-width="0.7"/>
<rect x="435.93" y="295.1" width="3.57" height="40.9" fill="#000"/>
<path d="M437.72 295.1V292.56M436.02 292.56H439.42" stroke="#555" stroke-width="0.8" fill="none"/>
<rect x="442.39" y="306.23" width="3.09" height="29.77" fill="#fff" stroke="#555" stroke-width="0.7"/>
<rect x="445.58" y="287.24" width="3.57" height="48.76" fill="#000"/>
<path d="M447.36 287.24V284.7M445.66 284.7H449.06" stroke="#555" stroke-width="0.8" fill="none"/>
<rect x="452.04" y="301.03" width="3.09" height="34.97" fill="#fff" stroke="#555" stroke-width="0.7"/>
<rect x="455.23" y="289.9" width="3.57" height="46.1" fill="#000"/>
<path d="M457.01 289.9V286.63M455.31 286.63H458.71" stroke="#555" stroke-width="0.8" fill="none"/>
<rect x="461.68" y="302.97" width="3.09" height="33.03" fill="#fff" stroke="#555" stroke-width="0.7"/>
<rect x="464.87" y="287.6" width="3.57" height="48.4" fill="#000"/>
<path d="M466.66 287.6V285.3M464.96 285.3H468.36" stroke="#555" stroke-width="0.8" fill="none"/>
<rect x="471.33" y="298.49" width="3.09" height="37.51" fill="#fff" stroke="#555" stroke-width="0.7"/>
<rect x="474.52" y="286.39" width="3.57" height="49.61" fill="#000"/>
<rect x="480.98" y="281.55" width="3.09" height="54.45" fill="#fff" stroke="#555" stroke-width="0.7"/>
<rect x="484.16" y="293.17" width="3.57" height="42.83" fill="#000"/>
<rect x="490.62" y="306.48" width="3.09" height="29.52" fill="#fff" stroke="#555" stroke-width="0.7"/>
<rect x="493.81" y="308.41" width="3.57" height="27.59" fill="#000"/>
<rect x="500.27" y="332.98" width="3.09" height="3.03" fill="#fff" stroke="#555" stroke-width="0.7"/>
<rect x="503.45" y="333.94" width="3.57" height="2.06" fill="#000"/>
<rect x="509.91" y="334.19" width="3.09" height="1.82" fill="#fff" stroke="#555" stroke-width="0.7"/>
<rect x="513.1" y="334.79" width="3.57" height="1.21" fill="#000"/>
<path d="M511.46 334.19V332.37M509.86 332.37H513.06" stroke="#555" stroke-width="0.8" fill="none"/>
<path d="M306.2 263.4V336H518.4" stroke="#7a7a7a" stroke-width="1" fill="none"/>
<path d="M303.2 336H306.2" stroke="#7a7a7a" stroke-width="1"/>
<text x="297.7" y="338.74" text-anchor="end" class="b" font-size="9">0</text>
<path d="M303.2 317.85H306.2" stroke="#7a7a7a" stroke-width="1"/>
<text x="297.7" y="320.59" text-anchor="end" class="b" font-size="9">15</text>
<path d="M303.2 299.7H306.2" stroke="#7a7a7a" stroke-width="1"/>
<text x="297.7" y="302.44" text-anchor="end" class="b" font-size="9">30</text>
<path d="M303.2 281.55H306.2" stroke="#7a7a7a" stroke-width="1"/>
<text x="297.7" y="284.29" text-anchor="end" class="b" font-size="9">45</text>
<path d="M303.2 263.4H306.2" stroke="#7a7a7a" stroke-width="1"/>
<text x="297.7" y="266.14" text-anchor="end" class="b" font-size="9">60</text>
<path d="M306.2 336V339" stroke="#7a7a7a" stroke-width="1"/>
<path d="M315.85 336V339" stroke="#7a7a7a" stroke-width="1"/>
<path d="M325.49 336V339" stroke="#7a7a7a" stroke-width="1"/>
<path d="M335.14 336V339" stroke="#7a7a7a" stroke-width="1"/>
<path d="M344.78 336V339" stroke="#7a7a7a" stroke-width="1"/>
<path d="M354.43 336V339" stroke="#7a7a7a" stroke-width="1"/>
<path d="M364.07 336V339" stroke="#7a7a7a" stroke-width="1"/>
<path d="M373.72 336V339" stroke="#7a7a7a" stroke-width="1"/>
<path d="M383.36 336V339" stroke="#7a7a7a" stroke-width="1"/>
<path d="M393.01 336V339" stroke="#7a7a7a" stroke-width="1"/>
<path d="M402.65 336V339" stroke="#7a7a7a" stroke-width="1"/>
<path d="M412.3 336V339" stroke="#7a7a7a" stroke-width="1"/>
<path d="M421.95 336V339" stroke="#7a7a7a" stroke-width="1"/>
<path d="M431.59 336V339" stroke="#7a7a7a" stroke-width="1"/>
<path d="M441.24 336V339" stroke="#7a7a7a" stroke-width="1"/>
<path d="M450.88 336V339" stroke="#7a7a7a" stroke-width="1"/>
<path d="M460.53 336V339" stroke="#7a7a7a" stroke-width="1"/>
<path d="M470.17 336V339" stroke="#7a7a7a" stroke-width="1"/>
<path d="M479.82 336V339" stroke="#7a7a7a" stroke-width="1"/>
<path d="M489.46 336V339" stroke="#7a7a7a" stroke-width="1"/>
<path d="M499.11 336V339" stroke="#7a7a7a" stroke-width="1"/>
<path d="M508.75 336V339" stroke="#7a7a7a" stroke-width="1"/>
<path d="M518.4 336V339" stroke="#7a7a7a" stroke-width="1"/>
<g transform="translate(306.97 344.3) scale(1.2 0.88) rotate(90)"><path d="M2.89 0 2.89 -5.73 2.4 -5.73 2.1 -5.12 1.36 -4.6 0.5 -4.28 0.5 -3.6 1.2 -3.86 1.84 -4.24 2.19 -4.6 2.19 0Z" class="one"/><text x="4.45" y="0" font-size="8" class="xr">3</text></g>
<g transform="translate(316.61 344.3) scale(1.2 0.88) rotate(90)"><path d="M2.89 0 2.89 -5.73 2.4 -5.73 2.1 -5.12 1.36 -4.6 0.5 -4.28 0.5 -3.6 1.2 -3.86 1.84 -4.24 2.19 -4.6 2.19 0Z" class="one"/><text x="4.45" y="0" font-size="8" class="xr">4</text></g>
<g transform="translate(326.26 344.3) scale(1.2 0.88) rotate(90)"><path d="M2.89 0 2.89 -5.73 2.4 -5.73 2.1 -5.12 1.36 -4.6 0.5 -4.28 0.5 -3.6 1.2 -3.86 1.84 -4.24 2.19 -4.6 2.19 0Z" class="one"/><text x="4.45" y="0" font-size="8" class="xr">5</text></g>
<g transform="translate(335.9 344.3) scale(1.2 0.88) rotate(90)"><path d="M2.89 0 2.89 -5.73 2.4 -5.73 2.1 -5.12 1.36 -4.6 0.5 -4.28 0.5 -3.6 1.2 -3.86 1.84 -4.24 2.19 -4.6 2.19 0Z" class="one"/><text x="4.45" y="0" font-size="8" class="xr">6</text></g>
<g transform="translate(345.55 344.3) scale(1.2 0.88) rotate(90)"><text x="0" y="0" font-size="8" class="xr">7</text></g>
<g transform="translate(355.19 344.3) scale(1.2 0.88) rotate(90)"><path d="M2.89 0 2.89 -5.73 2.4 -5.73 2.1 -5.12 1.36 -4.6 0.5 -4.28 0.5 -3.6 1.2 -3.86 1.84 -4.24 2.19 -4.6 2.19 0Z" class="one"/><path d="M7.34 0 7.34 -5.73 6.85 -5.73 6.54 -5.12 5.81 -4.6 4.94 -4.28 4.94 -3.6 5.65 -3.86 6.29 -4.24 6.64 -4.6 6.64 0Z" class="one"/></g>
<g transform="translate(364.84 344.3) scale(1.2 0.88) rotate(90)"><path d="M2.89 0 2.89 -5.73 2.4 -5.73 2.1 -5.12 1.36 -4.6 0.5 -4.28 0.5 -3.6 1.2 -3.86 1.84 -4.24 2.19 -4.6 2.19 0Z" class="one"/><text x="4.45" y="0" font-size="8" class="xr">0</text></g>
<g transform="translate(374.48 344.3) scale(1.2 0.88) rotate(90)"><path d="M2.89 0 2.89 -5.73 2.4 -5.73 2.1 -5.12 1.36 -4.6 0.5 -4.28 0.5 -3.6 1.2 -3.86 1.84 -4.24 2.19 -4.6 2.19 0Z" class="one"/><text x="4.45" y="0" font-size="8" class="xr">7</text></g>
<g transform="translate(384.13 344.3) scale(1.2 0.88) rotate(90)"><path d="M2.89 0 2.89 -5.73 2.4 -5.73 2.1 -5.12 1.36 -4.6 0.5 -4.28 0.5 -3.6 1.2 -3.86 1.84 -4.24 2.19 -4.6 2.19 0Z" class="one"/><text x="4.45" y="0" font-size="8" class="xr">2</text></g>
<g transform="translate(393.78 344.3) scale(1.2 0.88) rotate(90)"><text x="0" y="0" font-size="8" class="xr">3</text></g>
<g transform="translate(403.42 344.3) scale(1.2 0.88) rotate(90)"><text x="0" y="0" font-size="8" class="xr">4</text></g>
<g transform="translate(413.07 344.3) scale(1.2 0.88) rotate(90)"><text x="0" y="0" font-size="8" class="xr">8</text></g>
<g transform="translate(422.71 344.3) scale(1.2 0.88) rotate(90)"><text x="0" y="0" font-size="8" class="xr">6</text></g>
<g transform="translate(432.36 344.3) scale(1.2 0.88) rotate(90)"><text x="0" y="0" font-size="8" class="xr">9</text></g>
<g transform="translate(442 344.3) scale(1.2 0.88) rotate(90)"><text x="0" y="0" font-size="8" class="xr">5</text></g>
<g transform="translate(451.65 344.3) scale(1.2 0.88) rotate(90)"><path d="M2.89 0 2.89 -5.73 2.4 -5.73 2.1 -5.12 1.36 -4.6 0.5 -4.28 0.5 -3.6 1.2 -3.86 1.84 -4.24 2.19 -4.6 2.19 0Z" class="one"/></g>
<g transform="translate(461.29 344.3) scale(1.2 0.88) rotate(90)"><text x="0" y="0" font-size="8" class="xr">2</text></g>
<g transform="translate(470.94 344.3) scale(1.2 0.88) rotate(90)"><path d="M2.89 0 2.89 -5.73 2.4 -5.73 2.1 -5.12 1.36 -4.6 0.5 -4.28 0.5 -3.6 1.2 -3.86 1.84 -4.24 2.19 -4.6 2.19 0Z" class="one"/><text x="4.45" y="0" font-size="8" class="xr">8</text></g>
<g transform="translate(480.58 344.3) scale(1.2 0.88) rotate(90)"><path d="M2.89 0 2.89 -5.73 2.4 -5.73 2.1 -5.12 1.36 -4.6 0.5 -4.28 0.5 -3.6 1.2 -3.86 1.84 -4.24 2.19 -4.6 2.19 0Z" class="one"/><text x="4.45" y="0" font-size="8" class="xr">9</text></g>
<g transform="translate(490.23 344.3) scale(1.2 0.88) rotate(90)"><text x="0" y="0" font-size="8" class="xr">2</text><text x="4.45" y="0" font-size="8" class="xr">0</text></g>
<text transform="translate(499.62 344.3) scale(1.2 1) rotate(90)" font-size="8.6" class="xr">pbmc</text>
<text transform="translate(509.26 344.3) scale(1.2 1) rotate(90)" font-size="8.6" class="xr">BM</text>
<text transform="translate(317.21 267.1) scale(0.98 1)" font-size="14.36">miRNA-542-3p</text>
<text transform="translate(268 298.9) rotate(-90)" text-anchor="middle" class="yt" font-size="8.5">miRNA expression</text>
<text transform="translate(279.8 299.3) rotate(-90)" text-anchor="middle" class="yt" font-size="8.8">(fold of control)</text>
<rect x="163.2" y="471.36" width="3.19" height="1.04" fill="#fff" stroke="#555" stroke-width="0.7"/>
<rect x="166.49" y="454.65" width="3.69" height="17.75" fill="#000"/>
<path d="M164.79 471.36V460.92M163.19 460.92H166.39" stroke="#555" stroke-width="0.8" fill="none"/>
<path d="M168.34 454.65V454.13M166.64 454.13H170.04" stroke="#555" stroke-width="0.8" fill="none"/>
<rect x="173.18" y="471.88" width="3.19" height="0.52" fill="#fff" stroke="#555" stroke-width="0.7"/>
<rect x="176.47" y="471.36" width="3.69" height="1.04" fill="#000"/>
<path d="M174.78 471.88V466.92M173.18 466.92H176.38" stroke="#555" stroke-width="0.8" fill="none"/>
<rect x="203.13" y="453.09" width="3.19" height="19.31" fill="#fff" stroke="#555" stroke-width="0.7"/>
<rect x="206.42" y="452.3" width="3.69" height="20.1" fill="#000"/>
<path d="M204.72 453.09V446.3M203.12 446.3H206.32" stroke="#555" stroke-width="0.8" fill="none"/>
<rect x="213.11" y="457.78" width="3.19" height="14.62" fill="#fff" stroke="#555" stroke-width="0.7"/>
<rect x="216.4" y="453.09" width="3.69" height="19.31" fill="#000"/>
<path d="M214.7 457.78V451.52M213.1 451.52H216.3" stroke="#555" stroke-width="0.8" fill="none"/>
<rect x="253.03" y="416.55" width="3.19" height="55.85" fill="#fff" stroke="#555" stroke-width="0.7"/>
<rect x="256.33" y="401.41" width="3.69" height="70.99" fill="#000"/>
<path d="M254.63 416.55V398.8M253.03 398.8H256.23" stroke="#555" stroke-width="0.8" fill="none"/>
<rect x="263.02" y="420.2" width="3.19" height="52.2" fill="#fff" stroke="#555" stroke-width="0.7"/>
<rect x="266.31" y="420.2" width="3.69" height="52.2" fill="#000"/>
<path d="M264.61 420.2V401.41M263.01 401.41H266.21" stroke="#555" stroke-width="0.8" fill="none"/>
<path d="M268.16 420.2V413.94M266.46 413.94H269.86" stroke="#555" stroke-width="0.8" fill="none"/>
<path d="M52.2 394.1V472.4H271.8" stroke="#7a7a7a" stroke-width="1" fill="none"/>
<path d="M49.2 472.4H52.2" stroke="#7a7a7a" stroke-width="1"/>
<text x="43.7" y="475.14" text-anchor="end" class="b" font-size="9">0</text>
<path d="M49.2 446.3H52.2" stroke="#7a7a7a" stroke-width="1"/>
<text x="43.7" y="449.04" text-anchor="end" class="b" font-size="9">0.5</text>
<path d="M49.2 420.2H52.2" stroke="#7a7a7a" stroke-width="1"/>
<text x="43.7" y="422.94" text-anchor="end" class="b" font-size="9">1</text>
<path d="M49.2 394.1H52.2" stroke="#7a7a7a" stroke-width="1"/>
<text x="43.7" y="396.84" text-anchor="end" class="b" font-size="9">1.5</text>
<path d="M52.2 472.4V475.4" stroke="#7a7a7a" stroke-width="1"/>
<path d="M62.18 472.4V475.4" stroke="#7a7a7a" stroke-width="1"/>
<path d="M72.16 472.4V475.4" stroke="#7a7a7a" stroke-width="1"/>
<path d="M82.15 472.4V475.4" stroke="#7a7a7a" stroke-width="1"/>
<path d="M92.13 472.4V475.4" stroke="#7a7a7a" stroke-width="1"/>
<path d="M102.11 472.4V475.4" stroke="#7a7a7a" stroke-width="1"/>
<path d="M112.09 472.4V475.4" stroke="#7a7a7a" stroke-width="1"/>
<path d="M122.07 472.4V475.4" stroke="#7a7a7a" stroke-width="1"/>
<path d="M132.05 472.4V475.4" stroke="#7a7a7a" stroke-width="1"/>
<path d="M142.04 472.4V475.4" stroke="#7a7a7a" stroke-width="1"/>
<path d="M152.02 472.4V475.4" stroke="#7a7a7a" stroke-width="1"/>
<path d="M162 472.4V475.4" stroke="#7a7a7a" stroke-width="1"/>
<path d="M171.98 472.4V475.4" stroke="#7a7a7a" stroke-width="1"/>
<path d="M181.96 472.4V475.4" stroke="#7a7a7a" stroke-width="1"/>
<path d="M191.95 472.4V475.4" stroke="#7a7a7a" stroke-width="1"/>
<path d="M201.93 472.4V475.4" stroke="#7a7a7a" stroke-width="1"/>
<path d="M211.91 472.4V475.4" stroke="#7a7a7a" stroke-width="1"/>
<path d="M221.89 472.4V475.4" stroke="#7a7a7a" stroke-width="1"/>
<path d="M231.87 472.4V475.4" stroke="#7a7a7a" stroke-width="1"/>
<path d="M241.85 472.4V475.4" stroke="#7a7a7a" stroke-width="1"/>
<path d="M251.84 472.4V475.4" stroke="#7a7a7a" stroke-width="1"/>
<path d="M261.82 472.4V475.4" stroke="#7a7a7a" stroke-width="1"/>
<path d="M271.8 472.4V475.4" stroke="#7a7a7a" stroke-width="1"/>
<g transform="translate(52.88 481.3) scale(1.2 1) rotate(90)"><path d="M3.1 0 3.1 -6.16 2.58 -6.16 2.25 -5.5 1.46 -4.94 0.53 -4.6 0.53 -3.87 1.29 -4.15 1.98 -4.56 2.36 -4.94 2.36 0Z" class="one"/><text x="4.78" y="0" font-size="8.6" class="xr">3</text></g>
<g transform="translate(62.86 481.3) scale(1.2 1) rotate(90)"><path d="M3.1 0 3.1 -6.16 2.58 -6.16 2.25 -5.5 1.46 -4.94 0.53 -4.6 0.53 -3.87 1.29 -4.15 1.98 -4.56 2.36 -4.94 2.36 0Z" class="one"/><text x="4.78" y="0" font-size="8.6" class="xr">4</text></g>
<g transform="translate(72.84 481.3) scale(1.2 1) rotate(90)"><path d="M3.1 0 3.1 -6.16 2.58 -6.16 2.25 -5.5 1.46 -4.94 0.53 -4.6 0.53 -3.87 1.29 -4.15 1.98 -4.56 2.36 -4.94 2.36 0Z" class="one"/><text x="4.78" y="0" font-size="8.6" class="xr">5</text></g>
<g transform="translate(82.82 481.3) scale(1.2 1) rotate(90)"><path d="M3.1 0 3.1 -6.16 2.58 -6.16 2.25 -5.5 1.46 -4.94 0.53 -4.6 0.53 -3.87 1.29 -4.15 1.98 -4.56 2.36 -4.94 2.36 0Z" class="one"/><text x="4.78" y="0" font-size="8.6" class="xr">6</text></g>
<g transform="translate(92.8 481.3) scale(1.2 1) rotate(90)"><text x="0" y="0" font-size="8.6" class="xr">7</text></g>
<g transform="translate(102.78 481.3) scale(1.2 1) rotate(90)"><path d="M3.1 0 3.1 -6.16 2.58 -6.16 2.25 -5.5 1.46 -4.94 0.53 -4.6 0.53 -3.87 1.29 -4.15 1.98 -4.56 2.36 -4.94 2.36 0Z" class="one"/><path d="M7.89 0 7.89 -6.16 7.36 -6.16 7.03 -5.5 6.24 -4.94 5.31 -4.6 5.31 -3.87 6.07 -4.15 6.76 -4.56 7.14 -4.94 7.14 0Z" class="one"/></g>
<g transform="translate(112.77 481.3) scale(1.2 1) rotate(90)"><path d="M3.1 0 3.1 -6.16 2.58 -6.16 2.25 -5.5 1.46 -4.94 0.53 -4.6 0.53 -3.87 1.29 -4.15 1.98 -4.56 2.36 -4.94 2.36 0Z" class="one"/><text x="4.78" y="0" font-size="8.6" class="xr">0</text></g>
<g transform="translate(122.75 481.3) scale(1.2 1) rotate(90)"><path d="M3.1 0 3.1 -6.16 2.58 -6.16 2.25 -5.5 1.46 -4.94 0.53 -4.6 0.53 -3.87 1.29 -4.15 1.98 -4.56 2.36 -4.94 2.36 0Z" class="one"/><text x="4.78" y="0" font-size="8.6" class="xr">7</text></g>
<g transform="translate(132.73 481.3) scale(1.2 1) rotate(90)"><path d="M3.1 0 3.1 -6.16 2.58 -6.16 2.25 -5.5 1.46 -4.94 0.53 -4.6 0.53 -3.87 1.29 -4.15 1.98 -4.56 2.36 -4.94 2.36 0Z" class="one"/><text x="4.78" y="0" font-size="8.6" class="xr">2</text></g>
<g transform="translate(142.71 481.3) scale(1.2 1) rotate(90)"><text x="0" y="0" font-size="8.6" class="xr">3</text></g>
<g transform="translate(152.69 481.3) scale(1.2 1) rotate(90)"><text x="0" y="0" font-size="8.6" class="xr">4</text></g>
<g transform="translate(162.68 481.3) scale(1.2 1) rotate(90)"><text x="0" y="0" font-size="8.6" class="xr">8</text></g>
<g transform="translate(172.66 481.3) scale(1.2 1) rotate(90)"><text x="0" y="0" font-size="8.6" class="xr">6</text></g>
<g transform="translate(182.64 481.3) scale(1.2 1) rotate(90)"><text x="0" y="0" font-size="8.6" class="xr">9</text></g>
<g transform="translate(192.62 481.3) scale(1.2 1) rotate(90)"><text x="0" y="0" font-size="8.6" class="xr">5</text></g>
<g transform="translate(202.6 481.3) scale(1.2 1) rotate(90)"><path d="M3.1 0 3.1 -6.16 2.58 -6.16 2.25 -5.5 1.46 -4.94 0.53 -4.6 0.53 -3.87 1.29 -4.15 1.98 -4.56 2.36 -4.94 2.36 0Z" class="one"/></g>
<g transform="translate(212.58 481.3) scale(1.2 1) rotate(90)"><text x="0" y="0" font-size="8.6" class="xr">2</text></g>
<g transform="translate(222.57 481.3) scale(1.2 1) rotate(90)"><path d="M3.1 0 3.1 -6.16 2.58 -6.16 2.25 -5.5 1.46 -4.94 0.53 -4.6 0.53 -3.87 1.29 -4.15 1.98 -4.56 2.36 -4.94 2.36 0Z" class="one"/><text x="4.78" y="0" font-size="8.6" class="xr">8</text></g>
<g transform="translate(232.55 481.3) scale(1.2 1) rotate(90)"><path d="M3.1 0 3.1 -6.16 2.58 -6.16 2.25 -5.5 1.46 -4.94 0.53 -4.6 0.53 -3.87 1.29 -4.15 1.98 -4.56 2.36 -4.94 2.36 0Z" class="one"/><text x="4.78" y="0" font-size="8.6" class="xr">9</text></g>
<g transform="translate(242.53 481.3) scale(1.2 1) rotate(90)"><text x="0" y="0" font-size="8.6" class="xr">2</text><text x="4.78" y="0" font-size="8.6" class="xr">0</text></g>
<text transform="translate(252.21 481.3) scale(1.2 1) rotate(90)" font-size="9.3" class="xr">pbmc</text>
<text transform="translate(262.19 481.3) scale(1.2 1) rotate(90)" font-size="9.3" class="xr">BM</text>
<text transform="translate(62.41 396.3) scale(0.98 1)" font-size="15.75">miRNA-9*</text>
<text transform="translate(9.3 433.3) rotate(-90)" text-anchor="middle" class="yt" font-size="9.8">miRNA expression</text>
<text transform="translate(21.9 431.4) rotate(-90)" text-anchor="middle" class="yt" font-size="9.6">(fold of control)</text>
<rect x="345.5" y="442.5" width="163" height="42" fill="#fff" stroke="#444" stroke-width="1"/>
<rect x="352.9" y="450.3" width="11.1" height="11.1" fill="#fff" stroke="#333" stroke-width="1.2"/>
<rect x="352.3" y="466.5" width="12.3" height="12.2" fill="#000"/>
<text x="370" y="461" class="b" font-size="10">qRT-PCR</text>
<text x="370.8" y="476.6" class="b" font-size="10">Microbeads miRNA profiling</text>
</svg>
</body></html>
